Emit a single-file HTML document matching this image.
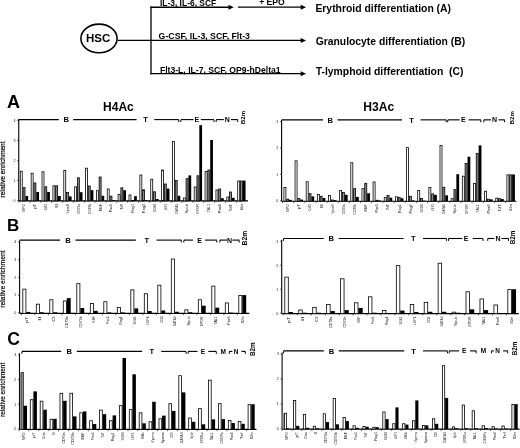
<!DOCTYPE html>
<html><head><meta charset="utf-8"><style>
html,body{margin:0;padding:0;background:#fff;}
body{width:520px;height:448px;overflow:hidden;}
svg{display:block;font-family:"Liberation Sans", Arial, sans-serif;}
</style></head><body>
<svg width="520" height="448" viewBox="0 0 520 448">
<rect width="520" height="448" fill="#fff"/>
<ellipse cx="99" cy="38.4" rx="18.1" ry="14.3" fill="none" stroke="#000" stroke-width="1.6"/>
<text x="98.2" y="42" font-size="11.5" font-weight="bold" text-anchor="middle" >HSC</text>
<line x1="117.8" y1="40.4" x2="151" y2="40.4" stroke="#000" stroke-width="1.3"/>
<line x1="151" y1="6.5" x2="151" y2="74.3" stroke="#000" stroke-width="1.3"/>
<line x1="150.4" y1="7.2" x2="229.0" y2="7.2" stroke="#000" stroke-width="1.4"/>
<polygon points="228.5,4.7 233.8,7.2 228.5,9.7" fill="#000"/>
<line x1="238" y1="7.2" x2="301.2" y2="7.2" stroke="#000" stroke-width="1.3"/>
<polygon points="300.7,4.7 306,7.2 300.7,9.7" fill="#000"/>
<line x1="151" y1="40.4" x2="301.2" y2="40.4" stroke="#000" stroke-width="1.3"/>
<polygon points="300.7,37.9 306,40.4 300.7,42.9" fill="#000"/>
<line x1="150.4" y1="73.7" x2="301.2" y2="73.7" stroke="#000" stroke-width="1.3"/>
<polygon points="300.7,71.2 306,73.7 300.7,76.2" fill="#000"/>
<text x="159.9" y="6.3" font-size="8.46" font-weight="bold" text-anchor="start" >IL-3, IL-6, SCF</text>
<text x="259.2" y="5.3" font-size="8.6" font-weight="bold" text-anchor="start" >+ EPO</text>
<text x="158.6" y="39.3" font-size="8.75" font-weight="bold" text-anchor="start" >G-CSF, IL-3, SCF, Flt-3</text>
<text x="159.9" y="72.8" font-size="8.65" font-weight="bold" text-anchor="start" >Flt3-L, IL-7, SCF, OP9-hDelta1</text>
<text x="315.4" y="11.9" font-size="10.4" font-weight="bold" text-anchor="start" >Erythroid differentiation (A)</text>
<text x="315.7" y="45.2" font-size="10.35" font-weight="bold" text-anchor="start" >Granulocyte differentiation (B)</text>
<text x="315.7" y="74.6" font-size="10.4" font-weight="bold" text-anchor="start" style="white-space:pre">T-lymphoid differentiation  (C)</text>
<line x1="18.75" y1="119.1" x2="18.75" y2="200.95" stroke="#000" stroke-width="1.1"/>
<line x1="17.15" y1="200.6" x2="18.75" y2="200.6" stroke="#000" stroke-width="0.6"/>
<text x="14.45" y="201.9" font-size="3.7" font-weight="normal" text-anchor="middle" fill="#222">0</text>
<line x1="17.15" y1="180.6" x2="18.75" y2="180.6" stroke="#000" stroke-width="0.6"/>
<text x="14.45" y="181.9" font-size="3.7" font-weight="normal" text-anchor="middle" fill="#222">1</text>
<line x1="17.15" y1="160.6" x2="18.75" y2="160.6" stroke="#000" stroke-width="0.6"/>
<text x="14.45" y="161.9" font-size="3.7" font-weight="normal" text-anchor="middle" fill="#222">2</text>
<line x1="17.15" y1="140.6" x2="18.75" y2="140.6" stroke="#000" stroke-width="0.6"/>
<text x="14.45" y="141.9" font-size="3.7" font-weight="normal" text-anchor="middle" fill="#222">3</text>
<line x1="17.15" y1="120.6" x2="18.75" y2="120.6" stroke="#000" stroke-width="0.6"/>
<text x="14.45" y="121.89999999999999" font-size="3.7" font-weight="normal" text-anchor="middle" fill="#222">4</text>
<line x1="18.75" y1="200.95" x2="248" y2="200.95" stroke="#000" stroke-width="1.2"/>
<text transform="translate(5.4,169.4) rotate(-90)" font-size="6.65" font-weight="normal" text-anchor="middle" fill="#000" stroke="#000" stroke-width="0.18">relative enrichment</text>
<line x1="18.9" y1="200.95" x2="18.9" y2="202.75" stroke="#000" stroke-width="0.6"/>
<rect x="20.30" y="171.20" width="1.95" height="29.75" fill="#fff" stroke="#000" stroke-width="0.8"/>
<rect x="23.05" y="187.60" width="1.95" height="13.35" fill="#8a8a8a" stroke="#000" stroke-width="0.8"/>
<rect x="25.40" y="196.00" width="2.75" height="4.95" fill="#000"/>
<text transform="translate(25.42,203.95) rotate(-90)" font-size="4.1" font-weight="normal" text-anchor="end" textLength="7.7" lengthAdjust="spacingAndGlyphs" fill="#111">MPO</text>
<line x1="29.769999999999996" y1="200.95" x2="29.769999999999996" y2="202.75" stroke="#000" stroke-width="0.6"/>
<rect x="31.17" y="173.20" width="1.95" height="27.75" fill="#fff" stroke="#000" stroke-width="0.8"/>
<rect x="33.92" y="183.00" width="1.95" height="17.95" fill="#8a8a8a" stroke="#000" stroke-width="0.8"/>
<rect x="36.27" y="192.00" width="2.75" height="8.95" fill="#000"/>
<text transform="translate(36.29,203.95) rotate(-90)" font-size="4.1" font-weight="normal" text-anchor="end" textLength="4.9" lengthAdjust="spacingAndGlyphs" fill="#111">pT</text>
<line x1="40.64" y1="200.95" x2="40.64" y2="202.75" stroke="#000" stroke-width="0.6"/>
<rect x="42.04" y="171.80" width="1.95" height="29.15" fill="#fff" stroke="#000" stroke-width="0.8"/>
<rect x="44.79" y="186.80" width="1.95" height="14.15" fill="#8a8a8a" stroke="#000" stroke-width="0.8"/>
<rect x="47.14" y="192.00" width="2.75" height="8.95" fill="#000"/>
<text transform="translate(47.16,203.95) rotate(-90)" font-size="4.1" font-weight="normal" text-anchor="end" textLength="6.4" lengthAdjust="spacingAndGlyphs" fill="#111">Cd19</text>
<line x1="51.51" y1="200.95" x2="51.51" y2="202.75" stroke="#000" stroke-width="0.6"/>
<rect x="52.91" y="185.80" width="1.95" height="15.15" fill="#fff" stroke="#000" stroke-width="0.8"/>
<rect x="55.66" y="185.80" width="1.95" height="15.15" fill="#8a8a8a" stroke="#000" stroke-width="0.8"/>
<rect x="58.01" y="196.00" width="2.75" height="4.95" fill="#000"/>
<text transform="translate(58.03,203.95) rotate(-90)" font-size="4.1" font-weight="normal" text-anchor="end" textLength="4.0" lengthAdjust="spacingAndGlyphs" fill="#111">Il</text>
<line x1="62.379999999999995" y1="200.95" x2="62.379999999999995" y2="202.75" stroke="#000" stroke-width="0.6"/>
<rect x="63.78" y="170.40" width="1.95" height="30.55" fill="#fff" stroke="#000" stroke-width="0.8"/>
<rect x="66.53" y="192.40" width="1.95" height="8.55" fill="#8a8a8a" stroke="#000" stroke-width="0.8"/>
<rect x="68.88" y="196.40" width="2.75" height="4.55" fill="#000"/>
<text transform="translate(68.91,203.95) rotate(-90)" font-size="4.1" font-weight="normal" text-anchor="end" textLength="9.5" lengthAdjust="spacingAndGlyphs" fill="#111">VpreB</text>
<line x1="73.25" y1="200.95" x2="73.25" y2="202.75" stroke="#000" stroke-width="0.6"/>
<rect x="74.65" y="186.80" width="1.95" height="14.15" fill="#fff" stroke="#000" stroke-width="0.8"/>
<rect x="77.40" y="177.80" width="1.95" height="23.15" fill="#8a8a8a" stroke="#000" stroke-width="0.8"/>
<rect x="79.75" y="192.20" width="2.75" height="8.75" fill="#000"/>
<text transform="translate(79.78,203.95) rotate(-90)" font-size="4.1" font-weight="normal" text-anchor="end" textLength="9.8" lengthAdjust="spacingAndGlyphs" fill="#111">CD79a</text>
<line x1="84.12" y1="200.95" x2="84.12" y2="202.75" stroke="#000" stroke-width="0.6"/>
<rect x="85.52" y="168.20" width="1.95" height="32.75" fill="#fff" stroke="#000" stroke-width="0.8"/>
<rect x="88.27" y="186.00" width="1.95" height="14.95" fill="#8a8a8a" stroke="#000" stroke-width="0.8"/>
<rect x="90.62" y="190.20" width="2.75" height="10.75" fill="#000"/>
<text transform="translate(90.65,203.95) rotate(-90)" font-size="4.1" font-weight="normal" text-anchor="end" textLength="10.2" lengthAdjust="spacingAndGlyphs" fill="#111">CD79b</text>
<line x1="94.98999999999998" y1="200.95" x2="94.98999999999998" y2="202.75" stroke="#000" stroke-width="0.6"/>
<rect x="96.39" y="190.60" width="1.95" height="10.35" fill="#fff" stroke="#000" stroke-width="0.8"/>
<rect x="99.14" y="177.00" width="1.95" height="23.95" fill="#8a8a8a" stroke="#000" stroke-width="0.8"/>
<rect x="101.49" y="195.80" width="2.75" height="5.15" fill="#000"/>
<text transform="translate(101.51,203.95) rotate(-90)" font-size="4.1" font-weight="normal" text-anchor="end" textLength="7.2" lengthAdjust="spacingAndGlyphs" fill="#111">EBF</text>
<line x1="105.85999999999999" y1="200.95" x2="105.85999999999999" y2="202.75" stroke="#000" stroke-width="0.6"/>
<rect x="107.26" y="189.00" width="1.95" height="11.95" fill="#fff" stroke="#000" stroke-width="0.8"/>
<rect x="110.01" y="196.20" width="1.95" height="4.75" fill="#8a8a8a" stroke="#000" stroke-width="0.8"/>
<rect x="112.36" y="200.00" width="2.75" height="0.95" fill="#000"/>
<text transform="translate(112.38,203.95) rotate(-90)" font-size="4.1" font-weight="normal" text-anchor="end" textLength="8.2" lengthAdjust="spacingAndGlyphs" fill="#111">Pax5</text>
<line x1="116.72999999999999" y1="200.95" x2="116.72999999999999" y2="202.75" stroke="#000" stroke-width="0.6"/>
<rect x="118.13" y="194.40" width="1.95" height="6.55" fill="#fff" stroke="#000" stroke-width="0.8"/>
<rect x="120.88" y="187.80" width="1.95" height="13.15" fill="#8a8a8a" stroke="#000" stroke-width="0.8"/>
<rect x="123.23" y="190.20" width="2.75" height="10.75" fill="#000"/>
<text transform="translate(123.25,203.95) rotate(-90)" font-size="4.1" font-weight="normal" text-anchor="end" textLength="5.7" lengthAdjust="spacingAndGlyphs" fill="#111">TdT</text>
<line x1="127.6" y1="200.95" x2="127.6" y2="202.75" stroke="#000" stroke-width="0.6"/>
<rect x="129.00" y="195.00" width="1.95" height="5.95" fill="#fff" stroke="#000" stroke-width="0.8"/>
<rect x="131.75" y="200.40" width="1.95" height="0.55" fill="#8a8a8a" stroke="#000" stroke-width="0.8"/>
<rect x="134.10" y="196.20" width="2.75" height="4.75" fill="#000"/>
<text transform="translate(134.12,203.95) rotate(-90)" font-size="4.1" font-weight="normal" text-anchor="end" textLength="8.7" lengthAdjust="spacingAndGlyphs" fill="#111">Rag1</text>
<line x1="138.47" y1="200.95" x2="138.47" y2="202.75" stroke="#000" stroke-width="0.6"/>
<rect x="139.87" y="175.00" width="1.95" height="25.95" fill="#fff" stroke="#000" stroke-width="0.8"/>
<rect x="142.62" y="189.80" width="1.95" height="11.15" fill="#8a8a8a" stroke="#000" stroke-width="0.8"/>
<rect x="144.97" y="200.20" width="2.75" height="0.75" fill="#000"/>
<text transform="translate(145.00,203.95) rotate(-90)" font-size="4.1" font-weight="normal" text-anchor="end" textLength="9.2" lengthAdjust="spacingAndGlyphs" fill="#111">Rag2</text>
<line x1="149.34" y1="200.95" x2="149.34" y2="202.75" stroke="#000" stroke-width="0.6"/>
<rect x="150.74" y="179.20" width="1.95" height="21.75" fill="#fff" stroke="#000" stroke-width="0.8"/>
<rect x="153.49" y="191.80" width="1.95" height="9.15" fill="#8a8a8a" stroke="#000" stroke-width="0.8"/>
<rect x="155.84" y="199.00" width="2.75" height="1.95" fill="#000"/>
<text transform="translate(155.87,203.95) rotate(-90)" font-size="4.1" font-weight="normal" text-anchor="end" textLength="8.2" lengthAdjust="spacingAndGlyphs" fill="#111">SOX4</text>
<line x1="160.21" y1="200.95" x2="160.21" y2="202.75" stroke="#000" stroke-width="0.6"/>
<rect x="161.61" y="170.00" width="1.95" height="30.95" fill="#fff" stroke="#000" stroke-width="0.8"/>
<rect x="164.36" y="184.00" width="1.95" height="16.95" fill="#8a8a8a" stroke="#000" stroke-width="0.8"/>
<rect x="166.71" y="188.60" width="2.75" height="12.35" fill="#000"/>
<text transform="translate(166.74,203.95) rotate(-90)" font-size="4.1" font-weight="normal" text-anchor="end" textLength="6.4" lengthAdjust="spacingAndGlyphs" fill="#111">LEF1</text>
<line x1="171.07999999999998" y1="200.95" x2="171.07999999999998" y2="202.75" stroke="#000" stroke-width="0.6"/>
<rect x="172.48" y="141.60" width="1.95" height="59.35" fill="#fff" stroke="#000" stroke-width="0.8"/>
<rect x="175.23" y="180.40" width="1.95" height="20.55" fill="#8a8a8a" stroke="#000" stroke-width="0.8"/>
<rect x="177.58" y="195.80" width="2.75" height="5.15" fill="#000"/>
<text transform="translate(177.60,203.95) rotate(-90)" font-size="4.1" font-weight="normal" text-anchor="end" textLength="9.8" lengthAdjust="spacingAndGlyphs" fill="#111">GATA3</text>
<line x1="181.95" y1="200.95" x2="181.95" y2="202.75" stroke="#000" stroke-width="0.6"/>
<rect x="183.35" y="198.00" width="1.95" height="2.95" fill="#fff" stroke="#000" stroke-width="0.8"/>
<rect x="186.10" y="178.60" width="1.95" height="22.35" fill="#8a8a8a" stroke="#000" stroke-width="0.8"/>
<rect x="188.45" y="175.40" width="2.75" height="25.55" fill="#000"/>
<text transform="translate(188.47,203.95) rotate(-90)" font-size="4.1" font-weight="normal" text-anchor="end" textLength="9.2" lengthAdjust="spacingAndGlyphs" fill="#111">Spi-b</text>
<line x1="192.82" y1="200.95" x2="192.82" y2="202.75" stroke="#000" stroke-width="0.6"/>
<rect x="194.22" y="187.00" width="1.95" height="13.95" fill="#fff" stroke="#000" stroke-width="0.8"/>
<rect x="196.97" y="175.80" width="1.95" height="25.15" fill="#8a8a8a" stroke="#000" stroke-width="0.8"/>
<rect x="199.32" y="125.20" width="2.75" height="75.75" fill="#000"/>
<text transform="translate(199.34,203.95) rotate(-90)" font-size="4.1" font-weight="normal" text-anchor="end" textLength="9.5" lengthAdjust="spacingAndGlyphs" fill="#111">EPOR</text>
<line x1="203.69" y1="200.95" x2="203.69" y2="202.75" stroke="#000" stroke-width="0.6"/>
<rect x="205.09" y="171.40" width="1.95" height="29.55" fill="#fff" stroke="#000" stroke-width="0.8"/>
<rect x="207.84" y="170.00" width="1.95" height="30.95" fill="#8a8a8a" stroke="#000" stroke-width="0.8"/>
<rect x="210.19" y="140.00" width="2.75" height="60.95" fill="#000"/>
<text transform="translate(210.22,203.95) rotate(-90)" font-size="4.1" font-weight="normal" text-anchor="end" textLength="8.2" lengthAdjust="spacingAndGlyphs" fill="#111">TAL1</text>
<line x1="214.56" y1="200.95" x2="214.56" y2="202.75" stroke="#000" stroke-width="0.6"/>
<rect x="215.96" y="190.00" width="1.95" height="10.95" fill="#fff" stroke="#000" stroke-width="0.8"/>
<rect x="218.71" y="189.00" width="1.95" height="11.95" fill="#8a8a8a" stroke="#000" stroke-width="0.8"/>
<rect x="221.06" y="198.20" width="2.75" height="2.75" fill="#000"/>
<text transform="translate(221.09,203.95) rotate(-90)" font-size="4.1" font-weight="normal" text-anchor="end" textLength="9.2" lengthAdjust="spacingAndGlyphs" fill="#111">Pax6</text>
<line x1="225.42999999999998" y1="200.95" x2="225.42999999999998" y2="202.75" stroke="#000" stroke-width="0.6"/>
<rect x="226.83" y="197.00" width="1.95" height="3.95" fill="#fff" stroke="#000" stroke-width="0.8"/>
<rect x="229.58" y="192.00" width="1.95" height="8.95" fill="#8a8a8a" stroke="#000" stroke-width="0.8"/>
<rect x="231.93" y="197.80" width="2.75" height="3.15" fill="#000"/>
<text transform="translate(231.95,203.95) rotate(-90)" font-size="4.1" font-weight="normal" text-anchor="end" textLength="7.2" lengthAdjust="spacingAndGlyphs" fill="#111">TdT</text>
<line x1="236.29999999999998" y1="200.95" x2="236.29999999999998" y2="202.75" stroke="#000" stroke-width="0.6"/>
<rect x="237.70" y="181.00" width="1.95" height="19.95" fill="#fff" stroke="#000" stroke-width="0.8"/>
<rect x="240.45" y="181.00" width="1.95" height="19.95" fill="#8a8a8a" stroke="#000" stroke-width="0.8"/>
<rect x="242.80" y="180.60" width="2.75" height="20.35" fill="#000"/>
<text transform="translate(242.82,203.95) rotate(-90)" font-size="4.1" font-weight="normal" text-anchor="end" textLength="6.4" lengthAdjust="spacingAndGlyphs" fill="#111">B2m</text>
<line x1="18.8" y1="119.6" x2="58.8" y2="119.6" stroke="#000" stroke-width="1.1"/>
<line x1="73.2" y1="119.6" x2="136.6" y2="119.6" stroke="#000" stroke-width="1.1"/>
<line x1="154.3" y1="119.6" x2="178.7" y2="119.6" stroke="#000" stroke-width="1.1"/>
<line x1="180.8" y1="119.6" x2="193.5" y2="119.6" stroke="#000" stroke-width="1.1"/>
<line x1="200.8" y1="119.6" x2="214" y2="119.6" stroke="#000" stroke-width="1.1"/>
<line x1="216.2" y1="119.6" x2="223.8" y2="119.6" stroke="#000" stroke-width="1.1"/>
<line x1="230.8" y1="119.6" x2="237.7" y2="119.6" stroke="#000" stroke-width="1.1"/>
<path d="M180.8,122.0 L180.8,120.19999999999999 Q180.8,119.6 181.5,119.6" stroke="#000" stroke-width="1" fill="none"/>
<path d="M216.2,122.0 L216.2,120.19999999999999 Q216.2,119.6 216.89999999999998,119.6" stroke="#000" stroke-width="1" fill="none"/>
<path d="M178.0,119.6 Q178.7,119.6 178.7,120.19999999999999 L178.7,122.0" stroke="#000" stroke-width="1" fill="none"/>
<path d="M213.3,119.6 Q214,119.6 214,120.19999999999999 L214,122.0" stroke="#000" stroke-width="1" fill="none"/>
<path d="M237.0,119.6 Q237.7,119.6 237.7,120.19999999999999 L237.7,122.0" stroke="#000" stroke-width="1" fill="none"/>
<text x="66.3" y="122.42079999999999" font-size="7.6" font-weight="bold" text-anchor="middle" >B</text>
<text x="145.6" y="122.42079999999999" font-size="7.6" font-weight="bold" text-anchor="middle" >T</text>
<text x="196.9" y="122.20599999999999" font-size="7" font-weight="bold" text-anchor="middle" >E</text>
<text x="227.3" y="122.20599999999999" font-size="7" font-weight="bold" text-anchor="middle" >N</text>
<text transform="translate(245.3,117.5) rotate(-90)" font-size="6.2" font-weight="bold" text-anchor="middle">B2m</text>
<text x="7.0" y="108.2" font-size="18" font-weight="bold" text-anchor="start" >A</text>
<text x="118.45" y="111.2" font-size="12.0" font-weight="bold" text-anchor="middle" >H4Ac</text>
<line x1="281.6" y1="120.05000000000001" x2="281.6" y2="201.25" stroke="#000" stroke-width="1.1"/>
<line x1="280.0" y1="200.9" x2="281.6" y2="200.9" stroke="#000" stroke-width="0.6"/>
<text x="277.3" y="202.20000000000002" font-size="3.7" font-weight="normal" text-anchor="middle" fill="#222">0</text>
<line x1="280.0" y1="174.45000000000002" x2="281.6" y2="174.45000000000002" stroke="#000" stroke-width="0.6"/>
<text x="277.3" y="175.75000000000003" font-size="3.7" font-weight="normal" text-anchor="middle" fill="#222">1</text>
<line x1="280.0" y1="148.0" x2="281.6" y2="148.0" stroke="#000" stroke-width="0.6"/>
<text x="277.3" y="149.3" font-size="3.7" font-weight="normal" text-anchor="middle" fill="#222">2</text>
<line x1="280.0" y1="121.55000000000001" x2="281.6" y2="121.55000000000001" stroke="#000" stroke-width="0.6"/>
<text x="277.3" y="122.85000000000001" font-size="3.7" font-weight="normal" text-anchor="middle" fill="#222">3</text>
<line x1="281.6" y1="201.25" x2="516.4" y2="201.25" stroke="#000" stroke-width="1.2"/>
<line x1="282.5" y1="201.25" x2="282.5" y2="203.05" stroke="#000" stroke-width="0.6"/>
<rect x="283.90" y="187.55" width="2.00" height="13.70" fill="#fff" stroke="#000" stroke-width="0.8"/>
<rect x="286.70" y="199.18" width="2.00" height="2.07" fill="#8a8a8a" stroke="#000" stroke-width="0.8"/>
<rect x="289.10" y="199.84" width="2.80" height="1.41" fill="#000"/>
<text transform="translate(289.10,204.25) rotate(-90)" font-size="4.1" font-weight="normal" text-anchor="end" textLength="7.7" lengthAdjust="spacingAndGlyphs" fill="#111">MPO</text>
<line x1="293.65" y1="201.25" x2="293.65" y2="203.05" stroke="#000" stroke-width="0.6"/>
<rect x="295.05" y="160.83" width="2.00" height="40.42" fill="#fff" stroke="#000" stroke-width="0.8"/>
<rect x="297.85" y="198.39" width="2.00" height="2.86" fill="#8a8a8a" stroke="#000" stroke-width="0.8"/>
<rect x="300.25" y="199.58" width="2.80" height="1.67" fill="#000"/>
<text transform="translate(300.25,204.25) rotate(-90)" font-size="4.1" font-weight="normal" text-anchor="end" textLength="4.9" lengthAdjust="spacingAndGlyphs" fill="#111">pT</text>
<line x1="304.8" y1="201.25" x2="304.8" y2="203.05" stroke="#000" stroke-width="0.6"/>
<rect x="306.20" y="181.73" width="2.00" height="19.52" fill="#fff" stroke="#000" stroke-width="0.8"/>
<rect x="309.00" y="193.63" width="2.00" height="7.62" fill="#8a8a8a" stroke="#000" stroke-width="0.8"/>
<rect x="311.40" y="196.40" width="2.80" height="4.85" fill="#000"/>
<text transform="translate(311.40,204.25) rotate(-90)" font-size="4.1" font-weight="normal" text-anchor="end" textLength="6.4" lengthAdjust="spacingAndGlyphs" fill="#111">Cd19</text>
<line x1="315.95" y1="201.25" x2="315.95" y2="203.05" stroke="#000" stroke-width="0.6"/>
<rect x="317.35" y="194.42" width="2.00" height="6.83" fill="#fff" stroke="#000" stroke-width="0.8"/>
<rect x="320.15" y="196.27" width="2.00" height="4.98" fill="#8a8a8a" stroke="#000" stroke-width="0.8"/>
<rect x="322.55" y="197.99" width="2.80" height="3.26" fill="#000"/>
<text transform="translate(322.55,204.25) rotate(-90)" font-size="4.1" font-weight="normal" text-anchor="end" textLength="4.0" lengthAdjust="spacingAndGlyphs" fill="#111">Il</text>
<line x1="327.1" y1="201.25" x2="327.1" y2="203.05" stroke="#000" stroke-width="0.6"/>
<rect x="328.50" y="195.48" width="2.00" height="5.77" fill="#fff" stroke="#000" stroke-width="0.8"/>
<rect x="331.30" y="199.98" width="2.00" height="1.27" fill="#8a8a8a" stroke="#000" stroke-width="0.8"/>
<rect x="333.70" y="200.11" width="2.80" height="1.14" fill="#000"/>
<text transform="translate(333.70,204.25) rotate(-90)" font-size="4.1" font-weight="normal" text-anchor="end" textLength="9.5" lengthAdjust="spacingAndGlyphs" fill="#111">VpreB</text>
<line x1="338.25" y1="201.25" x2="338.25" y2="203.05" stroke="#000" stroke-width="0.6"/>
<rect x="339.65" y="190.46" width="2.00" height="10.79" fill="#fff" stroke="#000" stroke-width="0.8"/>
<rect x="342.45" y="192.57" width="2.00" height="8.68" fill="#8a8a8a" stroke="#000" stroke-width="0.8"/>
<rect x="344.85" y="194.82" width="2.80" height="6.43" fill="#000"/>
<text transform="translate(344.85,204.25) rotate(-90)" font-size="4.1" font-weight="normal" text-anchor="end" textLength="9.8" lengthAdjust="spacingAndGlyphs" fill="#111">CD79a</text>
<line x1="349.4" y1="201.25" x2="349.4" y2="203.05" stroke="#000" stroke-width="0.6"/>
<rect x="350.80" y="162.68" width="2.00" height="38.57" fill="#fff" stroke="#000" stroke-width="0.8"/>
<rect x="353.60" y="188.60" width="2.00" height="12.65" fill="#8a8a8a" stroke="#000" stroke-width="0.8"/>
<rect x="356.00" y="196.93" width="2.80" height="4.32" fill="#000"/>
<text transform="translate(356.00,204.25) rotate(-90)" font-size="4.1" font-weight="normal" text-anchor="end" textLength="10.2" lengthAdjust="spacingAndGlyphs" fill="#111">CD79b</text>
<line x1="360.55" y1="201.25" x2="360.55" y2="203.05" stroke="#000" stroke-width="0.6"/>
<rect x="361.95" y="188.60" width="2.00" height="12.65" fill="#fff" stroke="#000" stroke-width="0.8"/>
<rect x="364.75" y="183.31" width="2.00" height="17.94" fill="#8a8a8a" stroke="#000" stroke-width="0.8"/>
<rect x="367.15" y="193.23" width="2.80" height="8.02" fill="#000"/>
<text transform="translate(367.15,204.25) rotate(-90)" font-size="4.1" font-weight="normal" text-anchor="end" textLength="7.2" lengthAdjust="spacingAndGlyphs" fill="#111">EBF</text>
<line x1="371.7" y1="201.25" x2="371.7" y2="203.05" stroke="#000" stroke-width="0.6"/>
<rect x="373.10" y="181.99" width="2.00" height="19.26" fill="#fff" stroke="#000" stroke-width="0.8"/>
<rect x="375.90" y="200.24" width="2.00" height="1.01" fill="#8a8a8a" stroke="#000" stroke-width="0.8"/>
<rect x="378.30" y="200.37" width="2.80" height="0.88" fill="#000"/>
<text transform="translate(378.30,204.25) rotate(-90)" font-size="4.1" font-weight="normal" text-anchor="end" textLength="8.2" lengthAdjust="spacingAndGlyphs" fill="#111">Pax5</text>
<line x1="382.85" y1="201.25" x2="382.85" y2="203.05" stroke="#000" stroke-width="0.6"/>
<rect x="384.25" y="197.60" width="2.00" height="3.65" fill="#fff" stroke="#000" stroke-width="0.8"/>
<rect x="387.05" y="195.48" width="2.00" height="5.77" fill="#8a8a8a" stroke="#000" stroke-width="0.8"/>
<rect x="389.45" y="197.73" width="2.80" height="3.52" fill="#000"/>
<text transform="translate(389.45,204.25) rotate(-90)" font-size="4.1" font-weight="normal" text-anchor="end" textLength="5.7" lengthAdjust="spacingAndGlyphs" fill="#111">TdT</text>
<line x1="394.0" y1="201.25" x2="394.0" y2="203.05" stroke="#000" stroke-width="0.6"/>
<rect x="395.40" y="196.80" width="2.00" height="4.45" fill="#fff" stroke="#000" stroke-width="0.8"/>
<rect x="398.20" y="197.33" width="2.00" height="3.92" fill="#8a8a8a" stroke="#000" stroke-width="0.8"/>
<rect x="400.60" y="198.25" width="2.80" height="2.99" fill="#000"/>
<text transform="translate(400.60,204.25) rotate(-90)" font-size="4.1" font-weight="normal" text-anchor="end" textLength="8.7" lengthAdjust="spacingAndGlyphs" fill="#111">Rag1</text>
<line x1="405.15" y1="201.25" x2="405.15" y2="203.05" stroke="#000" stroke-width="0.6"/>
<rect x="406.55" y="147.61" width="2.00" height="53.64" fill="#fff" stroke="#000" stroke-width="0.8"/>
<rect x="409.35" y="196.27" width="2.00" height="4.98" fill="#8a8a8a" stroke="#000" stroke-width="0.8"/>
<rect x="411.75" y="200.37" width="2.80" height="0.88" fill="#000"/>
<text transform="translate(411.75,204.25) rotate(-90)" font-size="4.1" font-weight="normal" text-anchor="end" textLength="9.2" lengthAdjust="spacingAndGlyphs" fill="#111">Rag2</text>
<line x1="416.3" y1="201.25" x2="416.3" y2="203.05" stroke="#000" stroke-width="0.6"/>
<rect x="417.70" y="190.46" width="2.00" height="10.79" fill="#fff" stroke="#000" stroke-width="0.8"/>
<rect x="420.50" y="198.39" width="2.00" height="2.86" fill="#8a8a8a" stroke="#000" stroke-width="0.8"/>
<rect x="422.90" y="200.64" width="2.80" height="0.61" fill="#000"/>
<text transform="translate(422.90,204.25) rotate(-90)" font-size="4.1" font-weight="normal" text-anchor="end" textLength="8.2" lengthAdjust="spacingAndGlyphs" fill="#111">SOX4</text>
<line x1="427.45000000000005" y1="201.25" x2="427.45000000000005" y2="203.05" stroke="#000" stroke-width="0.6"/>
<rect x="428.85" y="187.55" width="2.00" height="13.70" fill="#fff" stroke="#000" stroke-width="0.8"/>
<rect x="431.65" y="193.89" width="2.00" height="7.36" fill="#8a8a8a" stroke="#000" stroke-width="0.8"/>
<rect x="434.05" y="194.82" width="2.80" height="6.43" fill="#000"/>
<text transform="translate(434.05,204.25) rotate(-90)" font-size="4.1" font-weight="normal" text-anchor="end" textLength="6.4" lengthAdjust="spacingAndGlyphs" fill="#111">LEF1</text>
<line x1="438.6" y1="201.25" x2="438.6" y2="203.05" stroke="#000" stroke-width="0.6"/>
<rect x="440.00" y="145.49" width="2.00" height="55.76" fill="#fff" stroke="#000" stroke-width="0.8"/>
<rect x="442.80" y="187.28" width="2.00" height="13.97" fill="#8a8a8a" stroke="#000" stroke-width="0.8"/>
<rect x="445.20" y="195.35" width="2.80" height="5.90" fill="#000"/>
<text transform="translate(445.20,204.25) rotate(-90)" font-size="4.1" font-weight="normal" text-anchor="end" textLength="9.8" lengthAdjust="spacingAndGlyphs" fill="#111">GATA3</text>
<line x1="449.75" y1="201.25" x2="449.75" y2="203.05" stroke="#000" stroke-width="0.6"/>
<rect x="451.15" y="198.66" width="2.00" height="2.59" fill="#fff" stroke="#000" stroke-width="0.8"/>
<rect x="453.95" y="189.66" width="2.00" height="11.59" fill="#8a8a8a" stroke="#000" stroke-width="0.8"/>
<rect x="456.35" y="174.19" width="2.80" height="27.06" fill="#000"/>
<text transform="translate(456.35,204.25) rotate(-90)" font-size="4.1" font-weight="normal" text-anchor="end" textLength="9.2" lengthAdjust="spacingAndGlyphs" fill="#111">Spi-b</text>
<line x1="460.9" y1="201.25" x2="460.9" y2="203.05" stroke="#000" stroke-width="0.6"/>
<rect x="462.30" y="176.17" width="2.00" height="25.08" fill="#fff" stroke="#000" stroke-width="0.8"/>
<rect x="465.10" y="163.48" width="2.00" height="37.77" fill="#8a8a8a" stroke="#000" stroke-width="0.8"/>
<rect x="467.50" y="156.73" width="2.80" height="44.52" fill="#000"/>
<text transform="translate(467.50,204.25) rotate(-90)" font-size="4.1" font-weight="normal" text-anchor="end" textLength="9.5" lengthAdjust="spacingAndGlyphs" fill="#111">EPOR</text>
<line x1="472.05" y1="201.25" x2="472.05" y2="203.05" stroke="#000" stroke-width="0.6"/>
<rect x="473.45" y="183.58" width="2.00" height="17.67" fill="#fff" stroke="#000" stroke-width="0.8"/>
<rect x="476.25" y="153.43" width="2.00" height="47.82" fill="#8a8a8a" stroke="#000" stroke-width="0.8"/>
<rect x="478.65" y="145.36" width="2.80" height="55.89" fill="#000"/>
<text transform="translate(478.65,204.25) rotate(-90)" font-size="4.1" font-weight="normal" text-anchor="end" textLength="8.2" lengthAdjust="spacingAndGlyphs" fill="#111">TAL1</text>
<line x1="483.20000000000005" y1="201.25" x2="483.20000000000005" y2="203.05" stroke="#000" stroke-width="0.6"/>
<rect x="484.60" y="191.25" width="2.00" height="10.00" fill="#fff" stroke="#000" stroke-width="0.8"/>
<rect x="487.40" y="199.18" width="2.00" height="2.07" fill="#8a8a8a" stroke="#000" stroke-width="0.8"/>
<rect x="489.80" y="199.31" width="2.80" height="1.94" fill="#000"/>
<text transform="translate(489.80,204.25) rotate(-90)" font-size="4.1" font-weight="normal" text-anchor="end" textLength="9.2" lengthAdjust="spacingAndGlyphs" fill="#111">Pax6</text>
<line x1="494.35" y1="201.25" x2="494.35" y2="203.05" stroke="#000" stroke-width="0.6"/>
<rect x="495.75" y="198.13" width="2.00" height="3.12" fill="#fff" stroke="#000" stroke-width="0.8"/>
<rect x="498.55" y="198.66" width="2.00" height="2.59" fill="#8a8a8a" stroke="#000" stroke-width="0.8"/>
<rect x="500.95" y="199.05" width="2.80" height="2.20" fill="#000"/>
<text transform="translate(500.95,204.25) rotate(-90)" font-size="4.1" font-weight="normal" text-anchor="end" textLength="7.2" lengthAdjust="spacingAndGlyphs" fill="#111">TdT</text>
<line x1="505.5" y1="201.25" x2="505.5" y2="203.05" stroke="#000" stroke-width="0.6"/>
<rect x="506.90" y="174.85" width="2.00" height="26.40" fill="#fff" stroke="#000" stroke-width="0.8"/>
<rect x="509.70" y="174.85" width="2.00" height="26.40" fill="#8a8a8a" stroke="#000" stroke-width="0.8"/>
<rect x="512.10" y="174.45" width="2.80" height="26.80" fill="#000"/>
<text transform="translate(512.10,204.25) rotate(-90)" font-size="4.1" font-weight="normal" text-anchor="end" textLength="6.4" lengthAdjust="spacingAndGlyphs" fill="#111">B2m</text>
<line x1="281.6" y1="119.85" x2="323" y2="119.85" stroke="#000" stroke-width="1.1"/>
<line x1="337.5" y1="119.85" x2="402" y2="119.85" stroke="#000" stroke-width="1.1"/>
<line x1="420.5" y1="119.85" x2="446.2" y2="119.85" stroke="#000" stroke-width="1.1"/>
<line x1="447.7" y1="119.85" x2="459.7" y2="119.85" stroke="#000" stroke-width="1.1"/>
<line x1="468.5" y1="119.85" x2="480.8" y2="119.85" stroke="#000" stroke-width="1.1"/>
<line x1="483.8" y1="119.85" x2="491" y2="119.85" stroke="#000" stroke-width="1.1"/>
<line x1="498.5" y1="119.85" x2="504.6" y2="119.85" stroke="#000" stroke-width="1.1"/>
<path d="M447.7,122.25 L447.7,120.44999999999999 Q447.7,119.85 448.4,119.85" stroke="#000" stroke-width="1" fill="none"/>
<path d="M483.8,122.25 L483.8,120.44999999999999 Q483.8,119.85 484.5,119.85" stroke="#000" stroke-width="1" fill="none"/>
<path d="M445.5,119.85 Q446.2,119.85 446.2,120.44999999999999 L446.2,122.25" stroke="#000" stroke-width="1" fill="none"/>
<path d="M480.1,119.85 Q480.8,119.85 480.8,120.44999999999999 L480.8,122.25" stroke="#000" stroke-width="1" fill="none"/>
<path d="M503.90000000000003,119.85 Q504.6,119.85 504.6,120.44999999999999 L504.6,122.25" stroke="#000" stroke-width="1" fill="none"/>
<text x="330.2" y="122.67079999999999" font-size="7.6" font-weight="bold" text-anchor="middle" >B</text>
<text x="411.6" y="122.67079999999999" font-size="7.6" font-weight="bold" text-anchor="middle" >T</text>
<text x="463.3" y="122.45599999999999" font-size="7" font-weight="bold" text-anchor="middle" >E</text>
<text x="494.6" y="122.45599999999999" font-size="7" font-weight="bold" text-anchor="middle" >N</text>
<text transform="translate(513.9,117.7) rotate(-90)" font-size="6.2" font-weight="bold" text-anchor="middle">B2m</text>
<text x="378.75" y="111.25" font-size="12.1" font-weight="bold" text-anchor="middle" >H3Ac</text>
<line x1="19.6" y1="240.5" x2="19.6" y2="313.4" stroke="#000" stroke-width="1.1"/>
<line x1="18.0" y1="312.8" x2="19.6" y2="312.8" stroke="#000" stroke-width="0.6"/>
<text x="15.3" y="314.1" font-size="3.7" font-weight="normal" text-anchor="middle" fill="#222">0</text>
<line x1="18.0" y1="295.1" x2="19.6" y2="295.1" stroke="#000" stroke-width="0.6"/>
<text x="15.3" y="296.40000000000003" font-size="3.7" font-weight="normal" text-anchor="middle" fill="#222">1</text>
<line x1="18.0" y1="277.40000000000003" x2="19.6" y2="277.40000000000003" stroke="#000" stroke-width="0.6"/>
<text x="15.3" y="278.70000000000005" font-size="3.7" font-weight="normal" text-anchor="middle" fill="#222">2</text>
<line x1="18.0" y1="259.70000000000005" x2="19.6" y2="259.70000000000005" stroke="#000" stroke-width="0.6"/>
<text x="15.3" y="261.00000000000006" font-size="3.7" font-weight="normal" text-anchor="middle" fill="#222">3</text>
<line x1="18.0" y1="242.0" x2="19.6" y2="242.0" stroke="#000" stroke-width="0.6"/>
<text x="15.3" y="243.3" font-size="3.7" font-weight="normal" text-anchor="middle" fill="#222">4</text>
<line x1="19.6" y1="313.4" x2="249.3" y2="313.4" stroke="#000" stroke-width="1.2"/>
<text transform="translate(4.9,279) rotate(-90)" font-size="6.8" font-weight="normal" text-anchor="middle" fill="#000" stroke="#000" stroke-width="0.18">relative enrichment</text>
<line x1="21.4" y1="313.4" x2="21.4" y2="315.2" stroke="#000" stroke-width="0.6"/>
<rect x="22.80" y="289.13" width="3.10" height="24.27" fill="#fff" stroke="#000" stroke-width="0.8"/>
<rect x="26.30" y="311.92" width="3.90" height="1.48" fill="#000"/>
<text transform="translate(27.70,316.4) rotate(-90)" font-size="4.1" font-weight="normal" text-anchor="end" textLength="6.9" lengthAdjust="spacingAndGlyphs" fill="#111">pT</text>
<line x1="34.9" y1="313.4" x2="34.9" y2="315.2" stroke="#000" stroke-width="0.6"/>
<rect x="36.30" y="304.17" width="3.10" height="9.23" fill="#fff" stroke="#000" stroke-width="0.8"/>
<rect x="39.80" y="312.27" width="3.90" height="1.13" fill="#000"/>
<text transform="translate(41.20,316.4) rotate(-90)" font-size="4.1" font-weight="normal" text-anchor="end" textLength="4.6" lengthAdjust="spacingAndGlyphs" fill="#111">Il</text>
<line x1="48.4" y1="313.4" x2="48.4" y2="315.2" stroke="#000" stroke-width="0.6"/>
<rect x="49.80" y="299.75" width="3.10" height="13.65" fill="#fff" stroke="#000" stroke-width="0.8"/>
<rect x="53.30" y="312.27" width="3.90" height="1.13" fill="#000"/>
<text transform="translate(54.70,316.4) rotate(-90)" font-size="4.1" font-weight="normal" text-anchor="end" textLength="5.3" lengthAdjust="spacingAndGlyphs" fill="#111">Cl</text>
<line x1="61.9" y1="313.4" x2="61.9" y2="315.2" stroke="#000" stroke-width="0.6"/>
<rect x="63.30" y="300.99" width="3.10" height="12.41" fill="#fff" stroke="#000" stroke-width="0.8"/>
<rect x="66.80" y="298.11" width="3.90" height="15.29" fill="#000"/>
<text transform="translate(68.20,316.4) rotate(-90)" font-size="4.1" font-weight="normal" text-anchor="end" textLength="11.5" lengthAdjust="spacingAndGlyphs" fill="#111">CD79a</text>
<line x1="75.4" y1="313.4" x2="75.4" y2="315.2" stroke="#000" stroke-width="0.6"/>
<rect x="76.80" y="283.64" width="3.10" height="29.76" fill="#fff" stroke="#000" stroke-width="0.8"/>
<rect x="80.30" y="308.02" width="3.90" height="5.38" fill="#000"/>
<text transform="translate(81.70,316.4) rotate(-90)" font-size="4.1" font-weight="normal" text-anchor="end" textLength="11" lengthAdjust="spacingAndGlyphs" fill="#111">CD79b</text>
<line x1="88.9" y1="313.4" x2="88.9" y2="315.2" stroke="#000" stroke-width="0.6"/>
<rect x="90.30" y="303.46" width="3.10" height="9.93" fill="#fff" stroke="#000" stroke-width="0.8"/>
<rect x="93.80" y="310.85" width="3.90" height="2.55" fill="#000"/>
<text transform="translate(95.20,316.4) rotate(-90)" font-size="4.1" font-weight="normal" text-anchor="end" textLength="6" lengthAdjust="spacingAndGlyphs" fill="#111">EBF</text>
<line x1="102.4" y1="313.4" x2="102.4" y2="315.2" stroke="#000" stroke-width="0.6"/>
<rect x="103.80" y="301.69" width="3.10" height="11.70" fill="#fff" stroke="#000" stroke-width="0.8"/>
<rect x="107.30" y="312.45" width="3.90" height="0.95" fill="#000"/>
<text transform="translate(108.70,316.4) rotate(-90)" font-size="4.1" font-weight="normal" text-anchor="end" textLength="7.6" lengthAdjust="spacingAndGlyphs" fill="#111">Pax5</text>
<line x1="115.9" y1="313.4" x2="115.9" y2="315.2" stroke="#000" stroke-width="0.6"/>
<rect x="117.30" y="307.54" width="3.10" height="5.86" fill="#fff" stroke="#000" stroke-width="0.8"/>
<rect x="120.80" y="312.45" width="3.90" height="0.95" fill="#000"/>
<text transform="translate(122.20,316.4) rotate(-90)" font-size="4.1" font-weight="normal" text-anchor="end" textLength="8.3" lengthAdjust="spacingAndGlyphs" fill="#111">Rag1</text>
<line x1="129.4" y1="313.4" x2="129.4" y2="315.2" stroke="#000" stroke-width="0.6"/>
<rect x="130.80" y="289.84" width="3.10" height="23.56" fill="#fff" stroke="#000" stroke-width="0.8"/>
<rect x="134.30" y="308.38" width="3.90" height="5.02" fill="#000"/>
<text transform="translate(135.70,316.4) rotate(-90)" font-size="4.1" font-weight="normal" text-anchor="end" textLength="8" lengthAdjust="spacingAndGlyphs" fill="#111">SOX1</text>
<line x1="142.9" y1="313.4" x2="142.9" y2="315.2" stroke="#000" stroke-width="0.6"/>
<rect x="144.30" y="293.73" width="3.10" height="19.67" fill="#fff" stroke="#000" stroke-width="0.8"/>
<rect x="147.80" y="311.03" width="3.90" height="2.37" fill="#000"/>
<text transform="translate(149.20,316.4) rotate(-90)" font-size="4.1" font-weight="normal" text-anchor="end" textLength="8.3" lengthAdjust="spacingAndGlyphs" fill="#111">LEF1</text>
<line x1="156.4" y1="313.4" x2="156.4" y2="315.2" stroke="#000" stroke-width="0.6"/>
<rect x="157.80" y="285.23" width="3.10" height="28.17" fill="#fff" stroke="#000" stroke-width="0.8"/>
<rect x="161.30" y="310.50" width="3.90" height="2.90" fill="#000"/>
<text transform="translate(162.70,316.4) rotate(-90)" font-size="4.1" font-weight="normal" text-anchor="end" textLength="6.4" lengthAdjust="spacingAndGlyphs" fill="#111">CD3</text>
<line x1="169.9" y1="313.4" x2="169.9" y2="315.2" stroke="#000" stroke-width="0.6"/>
<rect x="171.30" y="259.04" width="3.10" height="54.36" fill="#fff" stroke="#000" stroke-width="0.8"/>
<rect x="174.80" y="311.74" width="3.90" height="1.66" fill="#000"/>
<text transform="translate(176.20,316.4) rotate(-90)" font-size="4.1" font-weight="normal" text-anchor="end" textLength="9.9" lengthAdjust="spacingAndGlyphs" fill="#111">GATA3</text>
<line x1="183.4" y1="313.4" x2="183.4" y2="315.2" stroke="#000" stroke-width="0.6"/>
<rect x="184.80" y="309.84" width="3.10" height="3.56" fill="#fff" stroke="#000" stroke-width="0.8"/>
<rect x="188.30" y="312.27" width="3.90" height="1.13" fill="#000"/>
<text transform="translate(189.70,316.4) rotate(-90)" font-size="4.1" font-weight="normal" text-anchor="end" textLength="9.2" lengthAdjust="spacingAndGlyphs" fill="#111">Spi-b</text>
<line x1="196.9" y1="313.4" x2="196.9" y2="315.2" stroke="#000" stroke-width="0.6"/>
<rect x="198.30" y="299.75" width="3.10" height="13.65" fill="#fff" stroke="#000" stroke-width="0.8"/>
<rect x="201.80" y="305.72" width="3.90" height="7.68" fill="#000"/>
<text transform="translate(203.20,316.4) rotate(-90)" font-size="4.1" font-weight="normal" text-anchor="end" textLength="9.9" lengthAdjust="spacingAndGlyphs" fill="#111">EPOR</text>
<line x1="210.4" y1="313.4" x2="210.4" y2="315.2" stroke="#000" stroke-width="0.6"/>
<rect x="211.80" y="286.12" width="3.10" height="27.28" fill="#fff" stroke="#000" stroke-width="0.8"/>
<rect x="215.30" y="307.67" width="3.90" height="5.73" fill="#000"/>
<text transform="translate(216.70,316.4) rotate(-90)" font-size="4.1" font-weight="normal" text-anchor="end" textLength="8.3" lengthAdjust="spacingAndGlyphs" fill="#111">TAL1</text>
<line x1="223.9" y1="313.4" x2="223.9" y2="315.2" stroke="#000" stroke-width="0.6"/>
<rect x="225.30" y="302.93" width="3.10" height="10.47" fill="#fff" stroke="#000" stroke-width="0.8"/>
<rect x="228.80" y="312.62" width="3.90" height="0.78" fill="#000"/>
<text transform="translate(230.20,316.4) rotate(-90)" font-size="4.1" font-weight="normal" text-anchor="end" textLength="8.3" lengthAdjust="spacingAndGlyphs" fill="#111">Pax6</text>
<line x1="237.4" y1="313.4" x2="237.4" y2="315.2" stroke="#000" stroke-width="0.6"/>
<rect x="238.80" y="295.50" width="3.10" height="17.90" fill="#fff" stroke="#000" stroke-width="0.8"/>
<rect x="242.30" y="295.10" width="3.90" height="18.30" fill="#000"/>
<text transform="translate(243.70,316.4) rotate(-90)" font-size="4.1" font-weight="normal" text-anchor="end" textLength="6.9" lengthAdjust="spacingAndGlyphs" fill="#111">B2m</text>
<line x1="19.6" y1="240.1" x2="60" y2="240.1" stroke="#000" stroke-width="1.1"/>
<line x1="75.5" y1="240.1" x2="135.8" y2="240.1" stroke="#000" stroke-width="1.1"/>
<line x1="156.5" y1="240.1" x2="181.3" y2="240.1" stroke="#000" stroke-width="1.1"/>
<line x1="183.8" y1="240.1" x2="193" y2="240.1" stroke="#000" stroke-width="1.1"/>
<line x1="205" y1="240.1" x2="216.8" y2="240.1" stroke="#000" stroke-width="1.1"/>
<line x1="219.8" y1="240.1" x2="227" y2="240.1" stroke="#000" stroke-width="1.1"/>
<line x1="232.3" y1="240.1" x2="239.2" y2="240.1" stroke="#000" stroke-width="1.1"/>
<path d="M183.8,242.5 L183.8,240.7 Q183.8,240.1 184.5,240.1" stroke="#000" stroke-width="1" fill="none"/>
<path d="M219.8,242.5 L219.8,240.7 Q219.8,240.1 220.5,240.1" stroke="#000" stroke-width="1" fill="none"/>
<path d="M180.60000000000002,240.1 Q181.3,240.1 181.3,240.7 L181.3,242.5" stroke="#000" stroke-width="1" fill="none"/>
<path d="M216.10000000000002,240.1 Q216.8,240.1 216.8,240.7 L216.8,242.5" stroke="#000" stroke-width="1" fill="none"/>
<path d="M238.5,240.1 Q239.2,240.1 239.2,240.7 L239.2,242.5" stroke="#000" stroke-width="1" fill="none"/>
<text x="68.1" y="242.92079999999999" font-size="7.6" font-weight="bold" text-anchor="middle" >B</text>
<text x="146.7" y="242.92079999999999" font-size="7.6" font-weight="bold" text-anchor="middle" >T</text>
<text x="199.6" y="242.706" font-size="7" font-weight="bold" text-anchor="middle" >E</text>
<text x="229.6" y="242.706" font-size="7" font-weight="bold" text-anchor="middle" >N</text>
<text transform="translate(247.0,238.1) rotate(-90)" font-size="6.8" font-weight="bold" text-anchor="middle">B2m</text>
<text x="6.9" y="231.3" font-size="17" font-weight="bold" text-anchor="start" >B</text>
<line x1="281.7" y1="239.7" x2="281.7" y2="313.6" stroke="#000" stroke-width="1.1"/>
<line x1="280.09999999999997" y1="313.2" x2="281.7" y2="313.2" stroke="#000" stroke-width="0.6"/>
<text x="277.4" y="314.5" font-size="3.7" font-weight="normal" text-anchor="middle" fill="#222">0</text>
<line x1="280.09999999999997" y1="289.2" x2="281.7" y2="289.2" stroke="#000" stroke-width="0.6"/>
<text x="277.4" y="290.5" font-size="3.7" font-weight="normal" text-anchor="middle" fill="#222">1</text>
<line x1="280.09999999999997" y1="265.2" x2="281.7" y2="265.2" stroke="#000" stroke-width="0.6"/>
<text x="277.4" y="266.5" font-size="3.7" font-weight="normal" text-anchor="middle" fill="#222">2</text>
<line x1="280.09999999999997" y1="241.2" x2="281.7" y2="241.2" stroke="#000" stroke-width="0.6"/>
<text x="277.4" y="242.5" font-size="3.7" font-weight="normal" text-anchor="middle" fill="#222">3</text>
<line x1="281.7" y1="313.6" x2="518.8" y2="313.6" stroke="#000" stroke-width="1.2"/>
<line x1="283.4" y1="313.6" x2="283.4" y2="315.40000000000003" stroke="#000" stroke-width="0.6"/>
<rect x="284.80" y="277.12" width="3.50" height="36.48" fill="#fff" stroke="#000" stroke-width="0.8"/>
<rect x="288.70" y="312.00" width="4.30" height="1.60" fill="#000"/>
<text transform="translate(290.10,316.6) rotate(-90)" font-size="4.1" font-weight="normal" text-anchor="end" textLength="6.9" lengthAdjust="spacingAndGlyphs" fill="#111">pT</text>
<line x1="297.34" y1="313.6" x2="297.34" y2="315.40000000000003" stroke="#000" stroke-width="0.6"/>
<rect x="298.74" y="310.00" width="3.50" height="3.60" fill="#fff" stroke="#000" stroke-width="0.8"/>
<rect x="302.64" y="312.72" width="4.30" height="0.88" fill="#000"/>
<text transform="translate(304.04,316.6) rotate(-90)" font-size="4.1" font-weight="normal" text-anchor="end" textLength="4.6" lengthAdjust="spacingAndGlyphs" fill="#111">Il</text>
<line x1="311.28" y1="313.6" x2="311.28" y2="315.40000000000003" stroke="#000" stroke-width="0.6"/>
<rect x="312.68" y="307.36" width="3.50" height="6.24" fill="#fff" stroke="#000" stroke-width="0.8"/>
<rect x="316.58" y="312.72" width="4.30" height="0.88" fill="#000"/>
<text transform="translate(317.98,316.6) rotate(-90)" font-size="4.1" font-weight="normal" text-anchor="end" textLength="5.3" lengthAdjust="spacingAndGlyphs" fill="#111">Cl</text>
<line x1="325.21999999999997" y1="313.6" x2="325.21999999999997" y2="315.40000000000003" stroke="#000" stroke-width="0.6"/>
<rect x="326.62" y="304.48" width="3.50" height="9.12" fill="#fff" stroke="#000" stroke-width="0.8"/>
<rect x="330.52" y="311.04" width="4.30" height="2.56" fill="#000"/>
<text transform="translate(331.92,316.6) rotate(-90)" font-size="4.1" font-weight="normal" text-anchor="end" textLength="11.5" lengthAdjust="spacingAndGlyphs" fill="#111">CD79a</text>
<line x1="339.15999999999997" y1="313.6" x2="339.15999999999997" y2="315.40000000000003" stroke="#000" stroke-width="0.6"/>
<rect x="340.56" y="278.80" width="3.50" height="34.80" fill="#fff" stroke="#000" stroke-width="0.8"/>
<rect x="344.46" y="310.08" width="4.30" height="3.52" fill="#000"/>
<text transform="translate(345.86,316.6) rotate(-90)" font-size="4.1" font-weight="normal" text-anchor="end" textLength="11" lengthAdjust="spacingAndGlyphs" fill="#111">CD79b</text>
<line x1="353.09999999999997" y1="313.6" x2="353.09999999999997" y2="315.40000000000003" stroke="#000" stroke-width="0.6"/>
<rect x="354.50" y="302.80" width="3.50" height="10.80" fill="#fff" stroke="#000" stroke-width="0.8"/>
<rect x="358.40" y="307.92" width="4.30" height="5.68" fill="#000"/>
<text transform="translate(359.80,316.6) rotate(-90)" font-size="4.1" font-weight="normal" text-anchor="end" textLength="6" lengthAdjust="spacingAndGlyphs" fill="#111">EBF</text>
<line x1="367.03999999999996" y1="313.6" x2="367.03999999999996" y2="315.40000000000003" stroke="#000" stroke-width="0.6"/>
<rect x="368.44" y="296.80" width="3.50" height="16.80" fill="#fff" stroke="#000" stroke-width="0.8"/>
<rect x="372.34" y="312.72" width="4.30" height="0.88" fill="#000"/>
<text transform="translate(373.74,316.6) rotate(-90)" font-size="4.1" font-weight="normal" text-anchor="end" textLength="7.6" lengthAdjust="spacingAndGlyphs" fill="#111">Pax5</text>
<line x1="380.97999999999996" y1="313.6" x2="380.97999999999996" y2="315.40000000000003" stroke="#000" stroke-width="0.6"/>
<rect x="382.38" y="310.48" width="3.50" height="3.12" fill="#fff" stroke="#000" stroke-width="0.8"/>
<rect x="386.28" y="312.96" width="4.30" height="0.64" fill="#000"/>
<text transform="translate(387.68,316.6) rotate(-90)" font-size="4.1" font-weight="normal" text-anchor="end" textLength="8.3" lengthAdjust="spacingAndGlyphs" fill="#111">Rag1</text>
<line x1="394.91999999999996" y1="313.6" x2="394.91999999999996" y2="315.40000000000003" stroke="#000" stroke-width="0.6"/>
<rect x="396.32" y="265.60" width="3.50" height="48.00" fill="#fff" stroke="#000" stroke-width="0.8"/>
<rect x="400.22" y="310.56" width="4.30" height="3.04" fill="#000"/>
<text transform="translate(401.62,316.6) rotate(-90)" font-size="4.1" font-weight="normal" text-anchor="end" textLength="8" lengthAdjust="spacingAndGlyphs" fill="#111">SOX1</text>
<line x1="408.85999999999996" y1="313.6" x2="408.85999999999996" y2="315.40000000000003" stroke="#000" stroke-width="0.6"/>
<rect x="410.26" y="304.48" width="3.50" height="9.12" fill="#fff" stroke="#000" stroke-width="0.8"/>
<rect x="414.16" y="312.00" width="4.30" height="1.60" fill="#000"/>
<text transform="translate(415.56,316.6) rotate(-90)" font-size="4.1" font-weight="normal" text-anchor="end" textLength="8.3" lengthAdjust="spacingAndGlyphs" fill="#111">LEF1</text>
<line x1="422.79999999999995" y1="313.6" x2="422.79999999999995" y2="315.40000000000003" stroke="#000" stroke-width="0.6"/>
<rect x="424.20" y="302.32" width="3.50" height="11.28" fill="#fff" stroke="#000" stroke-width="0.8"/>
<rect x="428.10" y="311.76" width="4.30" height="1.84" fill="#000"/>
<text transform="translate(429.50,316.6) rotate(-90)" font-size="4.1" font-weight="normal" text-anchor="end" textLength="6.4" lengthAdjust="spacingAndGlyphs" fill="#111">CD3</text>
<line x1="436.74" y1="313.6" x2="436.74" y2="315.40000000000003" stroke="#000" stroke-width="0.6"/>
<rect x="438.14" y="263.20" width="3.50" height="50.40" fill="#fff" stroke="#000" stroke-width="0.8"/>
<rect x="442.04" y="311.76" width="4.30" height="1.84" fill="#000"/>
<text transform="translate(443.44,316.6) rotate(-90)" font-size="4.1" font-weight="normal" text-anchor="end" textLength="9.9" lengthAdjust="spacingAndGlyphs" fill="#111">GATA3</text>
<line x1="450.67999999999995" y1="313.6" x2="450.67999999999995" y2="315.40000000000003" stroke="#000" stroke-width="0.6"/>
<rect x="452.08" y="312.16" width="3.50" height="1.44" fill="#fff" stroke="#000" stroke-width="0.8"/>
<rect x="455.98" y="312.72" width="4.30" height="0.88" fill="#000"/>
<text transform="translate(457.38,316.6) rotate(-90)" font-size="4.1" font-weight="normal" text-anchor="end" textLength="9.2" lengthAdjust="spacingAndGlyphs" fill="#111">Spi-b</text>
<line x1="464.62" y1="313.6" x2="464.62" y2="315.40000000000003" stroke="#000" stroke-width="0.6"/>
<rect x="466.02" y="291.76" width="3.50" height="21.84" fill="#fff" stroke="#000" stroke-width="0.8"/>
<rect x="469.92" y="309.36" width="4.30" height="4.24" fill="#000"/>
<text transform="translate(471.32,316.6) rotate(-90)" font-size="4.1" font-weight="normal" text-anchor="end" textLength="9.9" lengthAdjust="spacingAndGlyphs" fill="#111">EPOR</text>
<line x1="478.55999999999995" y1="313.6" x2="478.55999999999995" y2="315.40000000000003" stroke="#000" stroke-width="0.6"/>
<rect x="479.96" y="298.96" width="3.50" height="14.64" fill="#fff" stroke="#000" stroke-width="0.8"/>
<rect x="483.86" y="310.08" width="4.30" height="3.52" fill="#000"/>
<text transform="translate(485.26,316.6) rotate(-90)" font-size="4.1" font-weight="normal" text-anchor="end" textLength="8.3" lengthAdjust="spacingAndGlyphs" fill="#111">TAL1</text>
<line x1="492.5" y1="313.6" x2="492.5" y2="315.40000000000003" stroke="#000" stroke-width="0.6"/>
<rect x="493.90" y="304.96" width="3.50" height="8.64" fill="#fff" stroke="#000" stroke-width="0.8"/>
<rect x="497.80" y="312.96" width="4.30" height="0.64" fill="#000"/>
<text transform="translate(499.20,316.6) rotate(-90)" font-size="4.1" font-weight="normal" text-anchor="end" textLength="8.3" lengthAdjust="spacingAndGlyphs" fill="#111">Pax6</text>
<line x1="506.43999999999994" y1="313.6" x2="506.43999999999994" y2="315.40000000000003" stroke="#000" stroke-width="0.6"/>
<rect x="507.84" y="289.60" width="3.50" height="24.00" fill="#fff" stroke="#000" stroke-width="0.8"/>
<rect x="511.74" y="289.20" width="4.30" height="24.40" fill="#000"/>
<text transform="translate(513.14,316.6) rotate(-90)" font-size="4.1" font-weight="normal" text-anchor="end" textLength="6.9" lengthAdjust="spacingAndGlyphs" fill="#111">B2m</text>
<line x1="283.5" y1="238.5" x2="323.8" y2="238.5" stroke="#000" stroke-width="1.1"/>
<line x1="338.8" y1="238.5" x2="403.5" y2="238.5" stroke="#000" stroke-width="1.1"/>
<line x1="423" y1="238.5" x2="446.5" y2="238.5" stroke="#000" stroke-width="1.1"/>
<line x1="448.5" y1="238.5" x2="462.3" y2="238.5" stroke="#000" stroke-width="1.1"/>
<line x1="472.7" y1="238.5" x2="483" y2="238.5" stroke="#000" stroke-width="1.1"/>
<line x1="487.7" y1="238.5" x2="494.3" y2="238.5" stroke="#000" stroke-width="1.1"/>
<line x1="501.5" y1="238.5" x2="508.5" y2="238.5" stroke="#000" stroke-width="1.1"/>
<path d="M283.5,240.9 L283.5,239.1 Q283.5,238.5 284.2,238.5" stroke="#000" stroke-width="1" fill="none"/>
<path d="M448.5,240.9 L448.5,239.1 Q448.5,238.5 449.2,238.5" stroke="#000" stroke-width="1" fill="none"/>
<path d="M487.7,240.9 L487.7,239.1 Q487.7,238.5 488.4,238.5" stroke="#000" stroke-width="1" fill="none"/>
<path d="M445.8,238.5 Q446.5,238.5 446.5,239.1 L446.5,240.9" stroke="#000" stroke-width="1" fill="none"/>
<path d="M482.3,238.5 Q483,238.5 483,239.1 L483,240.9" stroke="#000" stroke-width="1" fill="none"/>
<path d="M507.8,238.5 Q508.5,238.5 508.5,239.1 L508.5,240.9" stroke="#000" stroke-width="1" fill="none"/>
<text x="331.2" y="241.3208" font-size="7.6" font-weight="bold" text-anchor="middle" >B</text>
<text x="413.2" y="241.3208" font-size="7.6" font-weight="bold" text-anchor="middle" >T</text>
<text x="466.1" y="241.106" font-size="7" font-weight="bold" text-anchor="middle" >E</text>
<text x="498.1" y="241.106" font-size="7" font-weight="bold" text-anchor="middle" >N</text>
<text transform="translate(515.4,237.5) rotate(-90)" font-size="6.3" font-weight="bold" text-anchor="middle">B2m</text>
<line x1="19.5" y1="353.25" x2="19.5" y2="429.4" stroke="#000" stroke-width="1.1"/>
<line x1="17.9" y1="429.0" x2="19.5" y2="429.0" stroke="#000" stroke-width="0.6"/>
<text x="15.2" y="430.3" font-size="3.7" font-weight="normal" text-anchor="middle" fill="#222">0</text>
<line x1="17.9" y1="404.25" x2="19.5" y2="404.25" stroke="#000" stroke-width="0.6"/>
<text x="15.2" y="405.55" font-size="3.7" font-weight="normal" text-anchor="middle" fill="#222">1</text>
<line x1="17.9" y1="379.5" x2="19.5" y2="379.5" stroke="#000" stroke-width="0.6"/>
<text x="15.2" y="380.8" font-size="3.7" font-weight="normal" text-anchor="middle" fill="#222">2</text>
<line x1="17.9" y1="354.75" x2="19.5" y2="354.75" stroke="#000" stroke-width="0.6"/>
<text x="15.2" y="356.05" font-size="3.7" font-weight="normal" text-anchor="middle" fill="#222">3</text>
<line x1="19.5" y1="429.4" x2="256.5" y2="429.4" stroke="#000" stroke-width="1.2"/>
<text transform="translate(5.1,389.8) rotate(-90)" font-size="6.4" font-weight="normal" text-anchor="middle" fill="#000" stroke="#000" stroke-width="0.18">relative enrichment</text>
<line x1="19.0" y1="429.4" x2="19.0" y2="431.2" stroke="#000" stroke-width="0.6"/>
<rect x="19.90" y="372.47" width="1.90" height="56.92" fill="#8c8c8c"/>
<rect x="22.00" y="372.47" width="1.30" height="56.92" fill="#fff" stroke="#000" stroke-width="0.8"/>
<rect x="23.50" y="405.74" width="3.50" height="23.66" fill="#000"/>
<text transform="translate(24.90,432.4) rotate(-90)" font-size="4.1" font-weight="normal" text-anchor="end" textLength="7.7" lengthAdjust="spacingAndGlyphs" fill="#111">MPO</text>
<line x1="28.9" y1="429.4" x2="28.9" y2="431.2" stroke="#000" stroke-width="0.6"/>
<rect x="30.30" y="399.70" width="2.70" height="29.70" fill="#fff" stroke="#000" stroke-width="0.8"/>
<rect x="33.40" y="391.38" width="3.50" height="38.02" fill="#000"/>
<text transform="translate(34.80,432.4) rotate(-90)" font-size="4.1" font-weight="normal" text-anchor="end" textLength="5.4" lengthAdjust="spacingAndGlyphs" fill="#111">pT</text>
<line x1="38.8" y1="429.4" x2="38.8" y2="431.2" stroke="#000" stroke-width="0.6"/>
<rect x="40.20" y="401.19" width="2.70" height="28.21" fill="#fff" stroke="#000" stroke-width="0.8"/>
<rect x="43.30" y="409.69" width="3.50" height="19.70" fill="#000"/>
<text transform="translate(44.70,432.4) rotate(-90)" font-size="4.1" font-weight="normal" text-anchor="end" textLength="6.9" lengthAdjust="spacingAndGlyphs" fill="#111">Cns</text>
<line x1="48.7" y1="429.4" x2="48.7" y2="431.2" stroke="#000" stroke-width="0.6"/>
<rect x="50.10" y="419.25" width="2.70" height="10.15" fill="#fff" stroke="#000" stroke-width="0.8"/>
<rect x="53.20" y="418.85" width="3.50" height="10.55" fill="#000"/>
<text transform="translate(54.60,432.4) rotate(-90)" font-size="4.1" font-weight="normal" text-anchor="end" textLength="2.3" lengthAdjust="spacingAndGlyphs" fill="#111">Il</text>
<line x1="58.6" y1="429.4" x2="58.6" y2="431.2" stroke="#000" stroke-width="0.6"/>
<rect x="60.00" y="393.26" width="2.70" height="36.13" fill="#fff" stroke="#000" stroke-width="0.8"/>
<rect x="63.10" y="400.79" width="3.50" height="28.61" fill="#000"/>
<text transform="translate(64.50,432.4) rotate(-90)" font-size="4.1" font-weight="normal" text-anchor="end" textLength="11.2" lengthAdjust="spacingAndGlyphs" fill="#111">CD79a</text>
<line x1="68.5" y1="429.4" x2="68.5" y2="431.2" stroke="#000" stroke-width="0.6"/>
<rect x="69.90" y="393.26" width="2.70" height="36.13" fill="#fff" stroke="#000" stroke-width="0.8"/>
<rect x="73.00" y="416.38" width="3.50" height="13.02" fill="#000"/>
<text transform="translate(74.40,432.4) rotate(-90)" font-size="4.1" font-weight="normal" text-anchor="end" textLength="12.3" lengthAdjust="spacingAndGlyphs" fill="#111">CD79b</text>
<line x1="78.4" y1="429.4" x2="78.4" y2="431.2" stroke="#000" stroke-width="0.6"/>
<rect x="79.80" y="412.82" width="2.70" height="16.58" fill="#fff" stroke="#000" stroke-width="0.8"/>
<rect x="82.90" y="411.43" width="3.50" height="17.97" fill="#000"/>
<text transform="translate(84.30,432.4) rotate(-90)" font-size="4.1" font-weight="normal" text-anchor="end" textLength="7.2" lengthAdjust="spacingAndGlyphs" fill="#111">EBF</text>
<line x1="88.3" y1="429.4" x2="88.3" y2="431.2" stroke="#000" stroke-width="0.6"/>
<rect x="89.70" y="420.74" width="2.70" height="8.66" fill="#fff" stroke="#000" stroke-width="0.8"/>
<rect x="92.80" y="424.05" width="3.50" height="5.35" fill="#000"/>
<text transform="translate(94.20,432.4) rotate(-90)" font-size="4.1" font-weight="normal" text-anchor="end" textLength="7.7" lengthAdjust="spacingAndGlyphs" fill="#111">Pax5</text>
<line x1="98.2" y1="429.4" x2="98.2" y2="431.2" stroke="#000" stroke-width="0.6"/>
<rect x="99.60" y="410.09" width="2.70" height="19.30" fill="#fff" stroke="#000" stroke-width="0.8"/>
<rect x="102.70" y="414.15" width="3.50" height="15.25" fill="#000"/>
<text transform="translate(104.10,432.4) rotate(-90)" font-size="4.1" font-weight="normal" text-anchor="end" textLength="5.4" lengthAdjust="spacingAndGlyphs" fill="#111">TdT</text>
<line x1="108.10000000000001" y1="429.4" x2="108.10000000000001" y2="431.2" stroke="#000" stroke-width="0.6"/>
<rect x="109.50" y="420.74" width="2.70" height="8.66" fill="#fff" stroke="#000" stroke-width="0.8"/>
<rect x="112.60" y="415.39" width="3.50" height="14.01" fill="#000"/>
<text transform="translate(114.00,432.4) rotate(-90)" font-size="4.1" font-weight="normal" text-anchor="end" textLength="8.7" lengthAdjust="spacingAndGlyphs" fill="#111">Rag1</text>
<line x1="118.0" y1="429.4" x2="118.0" y2="431.2" stroke="#000" stroke-width="0.6"/>
<rect x="119.40" y="405.64" width="2.70" height="23.76" fill="#fff" stroke="#000" stroke-width="0.8"/>
<rect x="122.50" y="357.97" width="3.50" height="71.43" fill="#000"/>
<text transform="translate(123.90,432.4) rotate(-90)" font-size="4.1" font-weight="normal" text-anchor="end" textLength="8.2" lengthAdjust="spacingAndGlyphs" fill="#111">SOX4</text>
<line x1="127.9" y1="429.4" x2="127.9" y2="431.2" stroke="#000" stroke-width="0.6"/>
<rect x="129.30" y="409.60" width="2.70" height="19.80" fill="#fff" stroke="#000" stroke-width="0.8"/>
<rect x="132.40" y="374.30" width="3.50" height="55.10" fill="#000"/>
<text transform="translate(133.80,432.4) rotate(-90)" font-size="4.1" font-weight="normal" text-anchor="end" textLength="7.2" lengthAdjust="spacingAndGlyphs" fill="#111">LEF1</text>
<line x1="137.8" y1="429.4" x2="137.8" y2="431.2" stroke="#000" stroke-width="0.6"/>
<rect x="139.20" y="412.82" width="2.70" height="16.58" fill="#fff" stroke="#000" stroke-width="0.8"/>
<rect x="142.30" y="423.31" width="3.50" height="6.09" fill="#000"/>
<text transform="translate(143.70,432.4) rotate(-90)" font-size="4.1" font-weight="normal" text-anchor="end" textLength="6.9" lengthAdjust="spacingAndGlyphs" fill="#111">Blk</text>
<line x1="147.70000000000002" y1="429.4" x2="147.70000000000002" y2="431.2" stroke="#000" stroke-width="0.6"/>
<rect x="149.10" y="421.73" width="2.70" height="7.67" fill="#fff" stroke="#000" stroke-width="0.8"/>
<rect x="152.20" y="401.77" width="3.50" height="27.62" fill="#000"/>
<text transform="translate(153.60,432.4) rotate(-90)" font-size="4.1" font-weight="normal" text-anchor="end" textLength="10.7" lengthAdjust="spacingAndGlyphs" fill="#111">pTgamma</text>
<line x1="157.6" y1="429.4" x2="157.6" y2="431.2" stroke="#000" stroke-width="0.6"/>
<rect x="159.00" y="418.76" width="2.70" height="10.64" fill="#fff" stroke="#000" stroke-width="0.8"/>
<rect x="162.10" y="415.63" width="3.50" height="13.76" fill="#000"/>
<text transform="translate(163.50,432.4) rotate(-90)" font-size="4.1" font-weight="normal" text-anchor="end" textLength="10.7" lengthAdjust="spacingAndGlyphs" fill="#111">Bgamma</text>
<line x1="167.5" y1="429.4" x2="167.5" y2="431.2" stroke="#000" stroke-width="0.6"/>
<rect x="168.90" y="403.66" width="2.70" height="25.74" fill="#fff" stroke="#000" stroke-width="0.8"/>
<rect x="172.00" y="410.93" width="3.50" height="18.47" fill="#000"/>
<text transform="translate(173.40,432.4) rotate(-90)" font-size="4.1" font-weight="normal" text-anchor="end" textLength="5.0" lengthAdjust="spacingAndGlyphs" fill="#111">CD3</text>
<line x1="177.4" y1="429.4" x2="177.4" y2="431.2" stroke="#000" stroke-width="0.6"/>
<rect x="178.80" y="375.69" width="2.70" height="53.71" fill="#fff" stroke="#000" stroke-width="0.8"/>
<rect x="181.90" y="392.37" width="3.50" height="37.03" fill="#000"/>
<text transform="translate(183.30,432.4) rotate(-90)" font-size="4.1" font-weight="normal" text-anchor="end" textLength="10.9" lengthAdjust="spacingAndGlyphs" fill="#111">GATA3</text>
<line x1="187.3" y1="429.4" x2="187.3" y2="431.2" stroke="#000" stroke-width="0.6"/>
<rect x="188.70" y="418.01" width="2.70" height="11.38" fill="#fff" stroke="#000" stroke-width="0.8"/>
<rect x="191.80" y="421.82" width="3.50" height="7.58" fill="#000"/>
<text transform="translate(193.20,432.4) rotate(-90)" font-size="4.1" font-weight="normal" text-anchor="end" textLength="6.0" lengthAdjust="spacingAndGlyphs" fill="#111">Spi-b</text>
<line x1="197.20000000000002" y1="429.4" x2="197.20000000000002" y2="431.2" stroke="#000" stroke-width="0.6"/>
<rect x="198.60" y="408.61" width="2.70" height="20.79" fill="#fff" stroke="#000" stroke-width="0.8"/>
<rect x="201.70" y="424.30" width="3.50" height="5.10" fill="#000"/>
<text transform="translate(203.10,432.4) rotate(-90)" font-size="4.1" font-weight="normal" text-anchor="end" textLength="10.6" lengthAdjust="spacingAndGlyphs" fill="#111">EPOR-a</text>
<line x1="207.1" y1="429.4" x2="207.1" y2="431.2" stroke="#000" stroke-width="0.6"/>
<rect x="208.50" y="380.15" width="2.70" height="49.25" fill="#fff" stroke="#000" stroke-width="0.8"/>
<rect x="211.60" y="419.35" width="3.50" height="10.05" fill="#000"/>
<text transform="translate(213.00,432.4) rotate(-90)" font-size="4.1" font-weight="normal" text-anchor="end" textLength="7.6" lengthAdjust="spacingAndGlyphs" fill="#111">TAL1</text>
<line x1="217.0" y1="429.4" x2="217.0" y2="431.2" stroke="#000" stroke-width="0.6"/>
<rect x="218.40" y="403.66" width="2.70" height="25.74" fill="#fff" stroke="#000" stroke-width="0.8"/>
<rect x="221.50" y="419.10" width="3.50" height="10.30" fill="#000"/>
<text transform="translate(222.90,432.4) rotate(-90)" font-size="4.1" font-weight="normal" text-anchor="end" textLength="11.3" lengthAdjust="spacingAndGlyphs" fill="#111">C/EBPa</text>
<line x1="226.9" y1="429.4" x2="226.9" y2="431.2" stroke="#000" stroke-width="0.6"/>
<rect x="228.30" y="420.49" width="2.70" height="8.91" fill="#fff" stroke="#000" stroke-width="0.8"/>
<rect x="231.40" y="423.06" width="3.50" height="6.34" fill="#000"/>
<text transform="translate(232.80,432.4) rotate(-90)" font-size="4.1" font-weight="normal" text-anchor="end" textLength="7.9" lengthAdjust="spacingAndGlyphs" fill="#111">Pax6</text>
<line x1="236.8" y1="429.4" x2="236.8" y2="431.2" stroke="#000" stroke-width="0.6"/>
<rect x="238.20" y="421.48" width="2.70" height="7.92" fill="#fff" stroke="#000" stroke-width="0.8"/>
<rect x="241.30" y="423.80" width="3.50" height="5.60" fill="#000"/>
<text transform="translate(242.70,432.4) rotate(-90)" font-size="4.1" font-weight="normal" text-anchor="end" textLength="6.8" lengthAdjust="spacingAndGlyphs" fill="#111">Tnf</text>
<line x1="246.70000000000002" y1="429.4" x2="246.70000000000002" y2="431.2" stroke="#000" stroke-width="0.6"/>
<rect x="248.10" y="404.65" width="2.70" height="24.75" fill="#fff" stroke="#000" stroke-width="0.8"/>
<rect x="251.20" y="404.25" width="3.50" height="25.15" fill="#000"/>
<text transform="translate(252.60,432.4) rotate(-90)" font-size="4.1" font-weight="normal" text-anchor="end" textLength="6.8" lengthAdjust="spacingAndGlyphs" fill="#111">B2m</text>
<line x1="21.9" y1="351.4" x2="61.2" y2="351.4" stroke="#000" stroke-width="1.1"/>
<line x1="76.8" y1="351.4" x2="142.1" y2="351.4" stroke="#000" stroke-width="1.1"/>
<line x1="161.2" y1="351.4" x2="186.1" y2="351.4" stroke="#000" stroke-width="1.1"/>
<line x1="188.1" y1="351.4" x2="197.5" y2="351.4" stroke="#000" stroke-width="1.1"/>
<line x1="208.3" y1="351.4" x2="216.3" y2="351.4" stroke="#000" stroke-width="1.1"/>
<line x1="229.3" y1="351.4" x2="232.3" y2="351.4" stroke="#000" stroke-width="1.1"/>
<line x1="241.4" y1="351.4" x2="245.3" y2="351.4" stroke="#000" stroke-width="1.1"/>
<path d="M21.9,353.79999999999995 L21.9,352.0 Q21.9,351.4 22.599999999999998,351.4" stroke="#000" stroke-width="1" fill="none"/>
<path d="M188.1,353.79999999999995 L188.1,352.0 Q188.1,351.4 188.79999999999998,351.4" stroke="#000" stroke-width="1" fill="none"/>
<path d="M229.3,353.79999999999995 L229.3,352.0 Q229.3,351.4 230.0,351.4" stroke="#000" stroke-width="1" fill="none"/>
<path d="M185.4,351.4 Q186.1,351.4 186.1,352.0 L186.1,353.79999999999995" stroke="#000" stroke-width="1" fill="none"/>
<path d="M215.60000000000002,351.4 Q216.3,351.4 216.3,352.0 L216.3,353.79999999999995" stroke="#000" stroke-width="1" fill="none"/>
<path d="M244.60000000000002,351.4 Q245.3,351.4 245.3,352.0 L245.3,353.79999999999995" stroke="#000" stroke-width="1" fill="none"/>
<text x="69.2" y="354.2208" font-size="7.6" font-weight="bold" text-anchor="middle" >B</text>
<text x="151.8" y="354.2208" font-size="7.6" font-weight="bold" text-anchor="middle" >T</text>
<text x="203" y="353.827" font-size="6.5" font-weight="bold" text-anchor="middle" >E</text>
<text x="223.3" y="353.827" font-size="6.5" font-weight="bold" text-anchor="middle" >M</text>
<text x="236.2" y="353.827" font-size="6.5" font-weight="bold" text-anchor="middle" >N</text>
<text transform="translate(254.8,349.1) rotate(-90)" font-size="6.3" font-weight="bold" text-anchor="middle">B2m</text>
<text x="7.2" y="345.0" font-size="17.6" font-weight="bold" text-anchor="start" >C</text>
<line x1="282.1" y1="352.6" x2="282.1" y2="429.1" stroke="#000" stroke-width="1.1"/>
<line x1="280.5" y1="428.8" x2="282.1" y2="428.8" stroke="#000" stroke-width="0.6"/>
<text x="277.8" y="430.1" font-size="3.7" font-weight="normal" text-anchor="middle" fill="#222">0</text>
<line x1="280.5" y1="403.90000000000003" x2="282.1" y2="403.90000000000003" stroke="#000" stroke-width="0.6"/>
<text x="277.8" y="405.20000000000005" font-size="3.7" font-weight="normal" text-anchor="middle" fill="#222">1</text>
<line x1="280.5" y1="379.0" x2="282.1" y2="379.0" stroke="#000" stroke-width="0.6"/>
<text x="277.8" y="380.3" font-size="3.7" font-weight="normal" text-anchor="middle" fill="#222">2</text>
<line x1="280.5" y1="354.1" x2="282.1" y2="354.1" stroke="#000" stroke-width="0.6"/>
<text x="277.8" y="355.40000000000003" font-size="3.7" font-weight="normal" text-anchor="middle" fill="#222">3</text>
<line x1="282.1" y1="429.1" x2="519.5" y2="429.1" stroke="#000" stroke-width="1.2"/>
<line x1="282.1" y1="429.1" x2="282.1" y2="430.90000000000003" stroke="#000" stroke-width="0.6"/>
<rect x="282.50" y="413.26" width="1.90" height="15.84" fill="#8c8c8c"/>
<rect x="284.60" y="413.26" width="2.00" height="15.84" fill="#fff" stroke="#000" stroke-width="0.8"/>
<rect x="286.20" y="428.30" width="3.10" height="0.80" fill="#000"/>
<text transform="translate(287.60,432.1) rotate(-90)" font-size="4.1" font-weight="normal" text-anchor="end" textLength="7.7" lengthAdjust="spacingAndGlyphs" fill="#111">MPO</text>
<line x1="292.03000000000003" y1="429.1" x2="292.03000000000003" y2="430.90000000000003" stroke="#000" stroke-width="0.6"/>
<rect x="293.43" y="400.56" width="2.30" height="28.54" fill="#fff" stroke="#000" stroke-width="0.8"/>
<rect x="296.13" y="425.81" width="3.10" height="3.29" fill="#000"/>
<text transform="translate(297.53,432.1) rotate(-90)" font-size="4.1" font-weight="normal" text-anchor="end" textLength="5.4" lengthAdjust="spacingAndGlyphs" fill="#111">pT</text>
<line x1="301.96000000000004" y1="429.1" x2="301.96000000000004" y2="430.90000000000003" stroke="#000" stroke-width="0.6"/>
<rect x="303.36" y="414.51" width="2.30" height="14.59" fill="#fff" stroke="#000" stroke-width="0.8"/>
<rect x="306.06" y="427.80" width="3.10" height="1.30" fill="#000"/>
<text transform="translate(307.46,432.1) rotate(-90)" font-size="4.1" font-weight="normal" text-anchor="end" textLength="6.9" lengthAdjust="spacingAndGlyphs" fill="#111">Cns</text>
<line x1="311.89000000000004" y1="429.1" x2="311.89000000000004" y2="430.90000000000003" stroke="#000" stroke-width="0.6"/>
<rect x="313.29" y="426.21" width="2.30" height="2.89" fill="#fff" stroke="#000" stroke-width="0.8"/>
<rect x="315.99" y="428.30" width="3.10" height="0.80" fill="#000"/>
<text transform="translate(317.39,432.1) rotate(-90)" font-size="4.1" font-weight="normal" text-anchor="end" textLength="2.3" lengthAdjust="spacingAndGlyphs" fill="#111">Il</text>
<line x1="321.82000000000005" y1="429.1" x2="321.82000000000005" y2="430.90000000000003" stroke="#000" stroke-width="0.6"/>
<rect x="323.22" y="413.76" width="2.30" height="15.34" fill="#fff" stroke="#000" stroke-width="0.8"/>
<rect x="325.92" y="422.08" width="3.10" height="7.02" fill="#000"/>
<text transform="translate(327.32,432.1) rotate(-90)" font-size="4.1" font-weight="normal" text-anchor="end" textLength="11.2" lengthAdjust="spacingAndGlyphs" fill="#111">CD79a</text>
<line x1="331.75" y1="429.1" x2="331.75" y2="430.90000000000003" stroke="#000" stroke-width="0.6"/>
<rect x="333.15" y="398.57" width="2.30" height="30.53" fill="#fff" stroke="#000" stroke-width="0.8"/>
<rect x="335.85" y="424.32" width="3.10" height="4.78" fill="#000"/>
<text transform="translate(337.25,432.1) rotate(-90)" font-size="4.1" font-weight="normal" text-anchor="end" textLength="12.3" lengthAdjust="spacingAndGlyphs" fill="#111">CD79b</text>
<line x1="341.68" y1="429.1" x2="341.68" y2="430.90000000000003" stroke="#000" stroke-width="0.6"/>
<rect x="343.08" y="417.50" width="2.30" height="11.60" fill="#fff" stroke="#000" stroke-width="0.8"/>
<rect x="345.78" y="421.08" width="3.10" height="8.02" fill="#000"/>
<text transform="translate(347.18,432.1) rotate(-90)" font-size="4.1" font-weight="normal" text-anchor="end" textLength="7.2" lengthAdjust="spacingAndGlyphs" fill="#111">EBF</text>
<line x1="351.61" y1="429.1" x2="351.61" y2="430.90000000000003" stroke="#000" stroke-width="0.6"/>
<rect x="353.01" y="425.71" width="2.30" height="3.39" fill="#fff" stroke="#000" stroke-width="0.8"/>
<rect x="355.71" y="427.80" width="3.10" height="1.30" fill="#000"/>
<text transform="translate(357.11,432.1) rotate(-90)" font-size="4.1" font-weight="normal" text-anchor="end" textLength="7.7" lengthAdjust="spacingAndGlyphs" fill="#111">Pax5</text>
<line x1="361.54" y1="429.1" x2="361.54" y2="430.90000000000003" stroke="#000" stroke-width="0.6"/>
<rect x="362.94" y="426.46" width="2.30" height="2.64" fill="#fff" stroke="#000" stroke-width="0.8"/>
<rect x="365.64" y="426.81" width="3.10" height="2.29" fill="#000"/>
<text transform="translate(367.04,432.1) rotate(-90)" font-size="4.1" font-weight="normal" text-anchor="end" textLength="5.4" lengthAdjust="spacingAndGlyphs" fill="#111">TdT</text>
<line x1="371.47" y1="429.1" x2="371.47" y2="430.90000000000003" stroke="#000" stroke-width="0.6"/>
<rect x="372.87" y="427.21" width="2.30" height="1.89" fill="#fff" stroke="#000" stroke-width="0.8"/>
<rect x="375.57" y="427.06" width="3.10" height="2.04" fill="#000"/>
<text transform="translate(376.97,432.1) rotate(-90)" font-size="4.1" font-weight="normal" text-anchor="end" textLength="8.7" lengthAdjust="spacingAndGlyphs" fill="#111">Rag1</text>
<line x1="381.40000000000003" y1="429.1" x2="381.40000000000003" y2="430.90000000000003" stroke="#000" stroke-width="0.6"/>
<rect x="382.80" y="412.02" width="2.30" height="17.08" fill="#fff" stroke="#000" stroke-width="0.8"/>
<rect x="385.50" y="419.09" width="3.10" height="10.01" fill="#000"/>
<text transform="translate(386.90,432.1) rotate(-90)" font-size="4.1" font-weight="normal" text-anchor="end" textLength="8.2" lengthAdjust="spacingAndGlyphs" fill="#111">SOX4</text>
<line x1="391.33000000000004" y1="429.1" x2="391.33000000000004" y2="430.90000000000003" stroke="#000" stroke-width="0.6"/>
<rect x="392.73" y="423.72" width="2.30" height="5.38" fill="#fff" stroke="#000" stroke-width="0.8"/>
<rect x="395.43" y="407.39" width="3.10" height="21.71" fill="#000"/>
<text transform="translate(396.83,432.1) rotate(-90)" font-size="4.1" font-weight="normal" text-anchor="end" textLength="7.2" lengthAdjust="spacingAndGlyphs" fill="#111">LEF1</text>
<line x1="401.26" y1="429.1" x2="401.26" y2="430.90000000000003" stroke="#000" stroke-width="0.6"/>
<rect x="402.66" y="423.72" width="2.30" height="5.38" fill="#fff" stroke="#000" stroke-width="0.8"/>
<rect x="405.36" y="424.57" width="3.10" height="4.53" fill="#000"/>
<text transform="translate(406.76,432.1) rotate(-90)" font-size="4.1" font-weight="normal" text-anchor="end" textLength="6.9" lengthAdjust="spacingAndGlyphs" fill="#111">Blk</text>
<line x1="411.19000000000005" y1="429.1" x2="411.19000000000005" y2="430.90000000000003" stroke="#000" stroke-width="0.6"/>
<rect x="412.59" y="420.73" width="2.30" height="8.37" fill="#fff" stroke="#000" stroke-width="0.8"/>
<rect x="415.29" y="400.41" width="3.10" height="28.69" fill="#000"/>
<text transform="translate(416.69,432.1) rotate(-90)" font-size="4.1" font-weight="normal" text-anchor="end" textLength="10.7" lengthAdjust="spacingAndGlyphs" fill="#111">pTgamma</text>
<line x1="421.12" y1="429.1" x2="421.12" y2="430.90000000000003" stroke="#000" stroke-width="0.6"/>
<rect x="422.52" y="425.46" width="2.30" height="3.64" fill="#fff" stroke="#000" stroke-width="0.8"/>
<rect x="425.22" y="425.31" width="3.10" height="3.79" fill="#000"/>
<text transform="translate(426.62,432.1) rotate(-90)" font-size="4.1" font-weight="normal" text-anchor="end" textLength="10.7" lengthAdjust="spacingAndGlyphs" fill="#111">Bgamma</text>
<line x1="431.05" y1="429.1" x2="431.05" y2="430.90000000000003" stroke="#000" stroke-width="0.6"/>
<rect x="432.45" y="418.74" width="2.30" height="10.36" fill="#fff" stroke="#000" stroke-width="0.8"/>
<rect x="435.15" y="423.82" width="3.10" height="5.28" fill="#000"/>
<text transform="translate(436.55,432.1) rotate(-90)" font-size="4.1" font-weight="normal" text-anchor="end" textLength="5.0" lengthAdjust="spacingAndGlyphs" fill="#111">CD3</text>
<line x1="440.98" y1="429.1" x2="440.98" y2="430.90000000000003" stroke="#000" stroke-width="0.6"/>
<rect x="442.38" y="365.70" width="2.30" height="63.40" fill="#fff" stroke="#000" stroke-width="0.8"/>
<rect x="445.08" y="397.92" width="3.10" height="31.18" fill="#000"/>
<text transform="translate(446.48,432.1) rotate(-90)" font-size="4.1" font-weight="normal" text-anchor="end" textLength="10.9" lengthAdjust="spacingAndGlyphs" fill="#111">GATA3</text>
<line x1="450.91" y1="429.1" x2="450.91" y2="430.90000000000003" stroke="#000" stroke-width="0.6"/>
<rect x="452.31" y="426.96" width="2.30" height="2.14" fill="#fff" stroke="#000" stroke-width="0.8"/>
<rect x="455.01" y="428.30" width="3.10" height="0.80" fill="#000"/>
<text transform="translate(456.41,432.1) rotate(-90)" font-size="4.1" font-weight="normal" text-anchor="end" textLength="6.0" lengthAdjust="spacingAndGlyphs" fill="#111">Spi-b</text>
<line x1="460.84000000000003" y1="429.1" x2="460.84000000000003" y2="430.90000000000003" stroke="#000" stroke-width="0.6"/>
<rect x="462.24" y="405.05" width="2.30" height="24.05" fill="#fff" stroke="#000" stroke-width="0.8"/>
<rect x="464.94" y="428.30" width="3.10" height="0.80" fill="#000"/>
<text transform="translate(466.34,432.1) rotate(-90)" font-size="4.1" font-weight="normal" text-anchor="end" textLength="10.6" lengthAdjust="spacingAndGlyphs" fill="#111">EPOR-a</text>
<line x1="470.77" y1="429.1" x2="470.77" y2="430.90000000000003" stroke="#000" stroke-width="0.6"/>
<rect x="472.17" y="410.77" width="2.30" height="18.33" fill="#fff" stroke="#000" stroke-width="0.8"/>
<rect x="474.87" y="428.30" width="3.10" height="0.80" fill="#000"/>
<text transform="translate(476.27,432.1) rotate(-90)" font-size="4.1" font-weight="normal" text-anchor="end" textLength="7.6" lengthAdjust="spacingAndGlyphs" fill="#111">TAL1</text>
<line x1="480.70000000000005" y1="429.1" x2="480.70000000000005" y2="430.90000000000003" stroke="#000" stroke-width="0.6"/>
<rect x="482.10" y="425.71" width="2.30" height="3.39" fill="#fff" stroke="#000" stroke-width="0.8"/>
<rect x="484.80" y="428.05" width="3.10" height="1.05" fill="#000"/>
<text transform="translate(486.20,432.1) rotate(-90)" font-size="4.1" font-weight="normal" text-anchor="end" textLength="11.3" lengthAdjust="spacingAndGlyphs" fill="#111">C/EBPa</text>
<line x1="490.63" y1="429.1" x2="490.63" y2="430.90000000000003" stroke="#000" stroke-width="0.6"/>
<rect x="492.03" y="426.71" width="2.30" height="2.39" fill="#fff" stroke="#000" stroke-width="0.8"/>
<rect x="494.73" y="428.55" width="3.10" height="0.55" fill="#000"/>
<text transform="translate(496.13,432.1) rotate(-90)" font-size="4.1" font-weight="normal" text-anchor="end" textLength="7.9" lengthAdjust="spacingAndGlyphs" fill="#111">Pax6</text>
<line x1="500.56" y1="429.1" x2="500.56" y2="430.90000000000003" stroke="#000" stroke-width="0.6"/>
<rect x="501.96" y="425.96" width="2.30" height="3.14" fill="#fff" stroke="#000" stroke-width="0.8"/>
<rect x="504.66" y="428.55" width="3.10" height="0.55" fill="#000"/>
<text transform="translate(506.06,432.1) rotate(-90)" font-size="4.1" font-weight="normal" text-anchor="end" textLength="6.8" lengthAdjust="spacingAndGlyphs" fill="#111">Tnf</text>
<line x1="510.49" y1="429.1" x2="510.49" y2="430.90000000000003" stroke="#000" stroke-width="0.6"/>
<rect x="511.89" y="404.55" width="2.30" height="24.55" fill="#fff" stroke="#000" stroke-width="0.8"/>
<rect x="514.59" y="404.15" width="3.10" height="24.95" fill="#000"/>
<text transform="translate(515.99,432.1) rotate(-90)" font-size="4.1" font-weight="normal" text-anchor="end" textLength="6.8" lengthAdjust="spacingAndGlyphs" fill="#111">B2m</text>
<line x1="283.5" y1="350.9" x2="323.8" y2="350.9" stroke="#000" stroke-width="1.1"/>
<line x1="338.8" y1="350.9" x2="404.2" y2="350.9" stroke="#000" stroke-width="1.1"/>
<line x1="423.1" y1="350.9" x2="447.5" y2="350.9" stroke="#000" stroke-width="1.1"/>
<line x1="449.2" y1="350.9" x2="459.2" y2="350.9" stroke="#000" stroke-width="1.1"/>
<line x1="470" y1="350.9" x2="476.2" y2="350.9" stroke="#000" stroke-width="1.1"/>
<line x1="491.5" y1="350.9" x2="493.8" y2="350.9" stroke="#000" stroke-width="1.1"/>
<line x1="503.1" y1="350.9" x2="507.7" y2="350.9" stroke="#000" stroke-width="1.1"/>
<path d="M283.5,353.29999999999995 L283.5,351.5 Q283.5,350.9 284.2,350.9" stroke="#000" stroke-width="1" fill="none"/>
<path d="M449.2,353.29999999999995 L449.2,351.5 Q449.2,350.9 449.9,350.9" stroke="#000" stroke-width="1" fill="none"/>
<path d="M491.5,353.29999999999995 L491.5,351.5 Q491.5,350.9 492.2,350.9" stroke="#000" stroke-width="1" fill="none"/>
<path d="M446.8,350.9 Q447.5,350.9 447.5,351.5 L447.5,353.29999999999995" stroke="#000" stroke-width="1" fill="none"/>
<path d="M475.5,350.9 Q476.2,350.9 476.2,351.5 L476.2,353.29999999999995" stroke="#000" stroke-width="1" fill="none"/>
<path d="M507.0,350.9 Q507.7,350.9 507.7,351.5 L507.7,353.29999999999995" stroke="#000" stroke-width="1" fill="none"/>
<text x="331.5" y="353.7208" font-size="7.6" font-weight="bold" text-anchor="middle" >B</text>
<text x="413.6" y="353.7208" font-size="7.6" font-weight="bold" text-anchor="middle" >T</text>
<text x="464.2" y="353.327" font-size="6.5" font-weight="bold" text-anchor="middle" >E</text>
<text x="483.5" y="353.327" font-size="6.5" font-weight="bold" text-anchor="middle" >M</text>
<text x="497.7" y="353.327" font-size="6.5" font-weight="bold" text-anchor="middle" >N</text>
<text transform="translate(516.9,348.4) rotate(-90)" font-size="6.3" font-weight="bold" text-anchor="middle">B2m</text>
</svg>
</body></html>
